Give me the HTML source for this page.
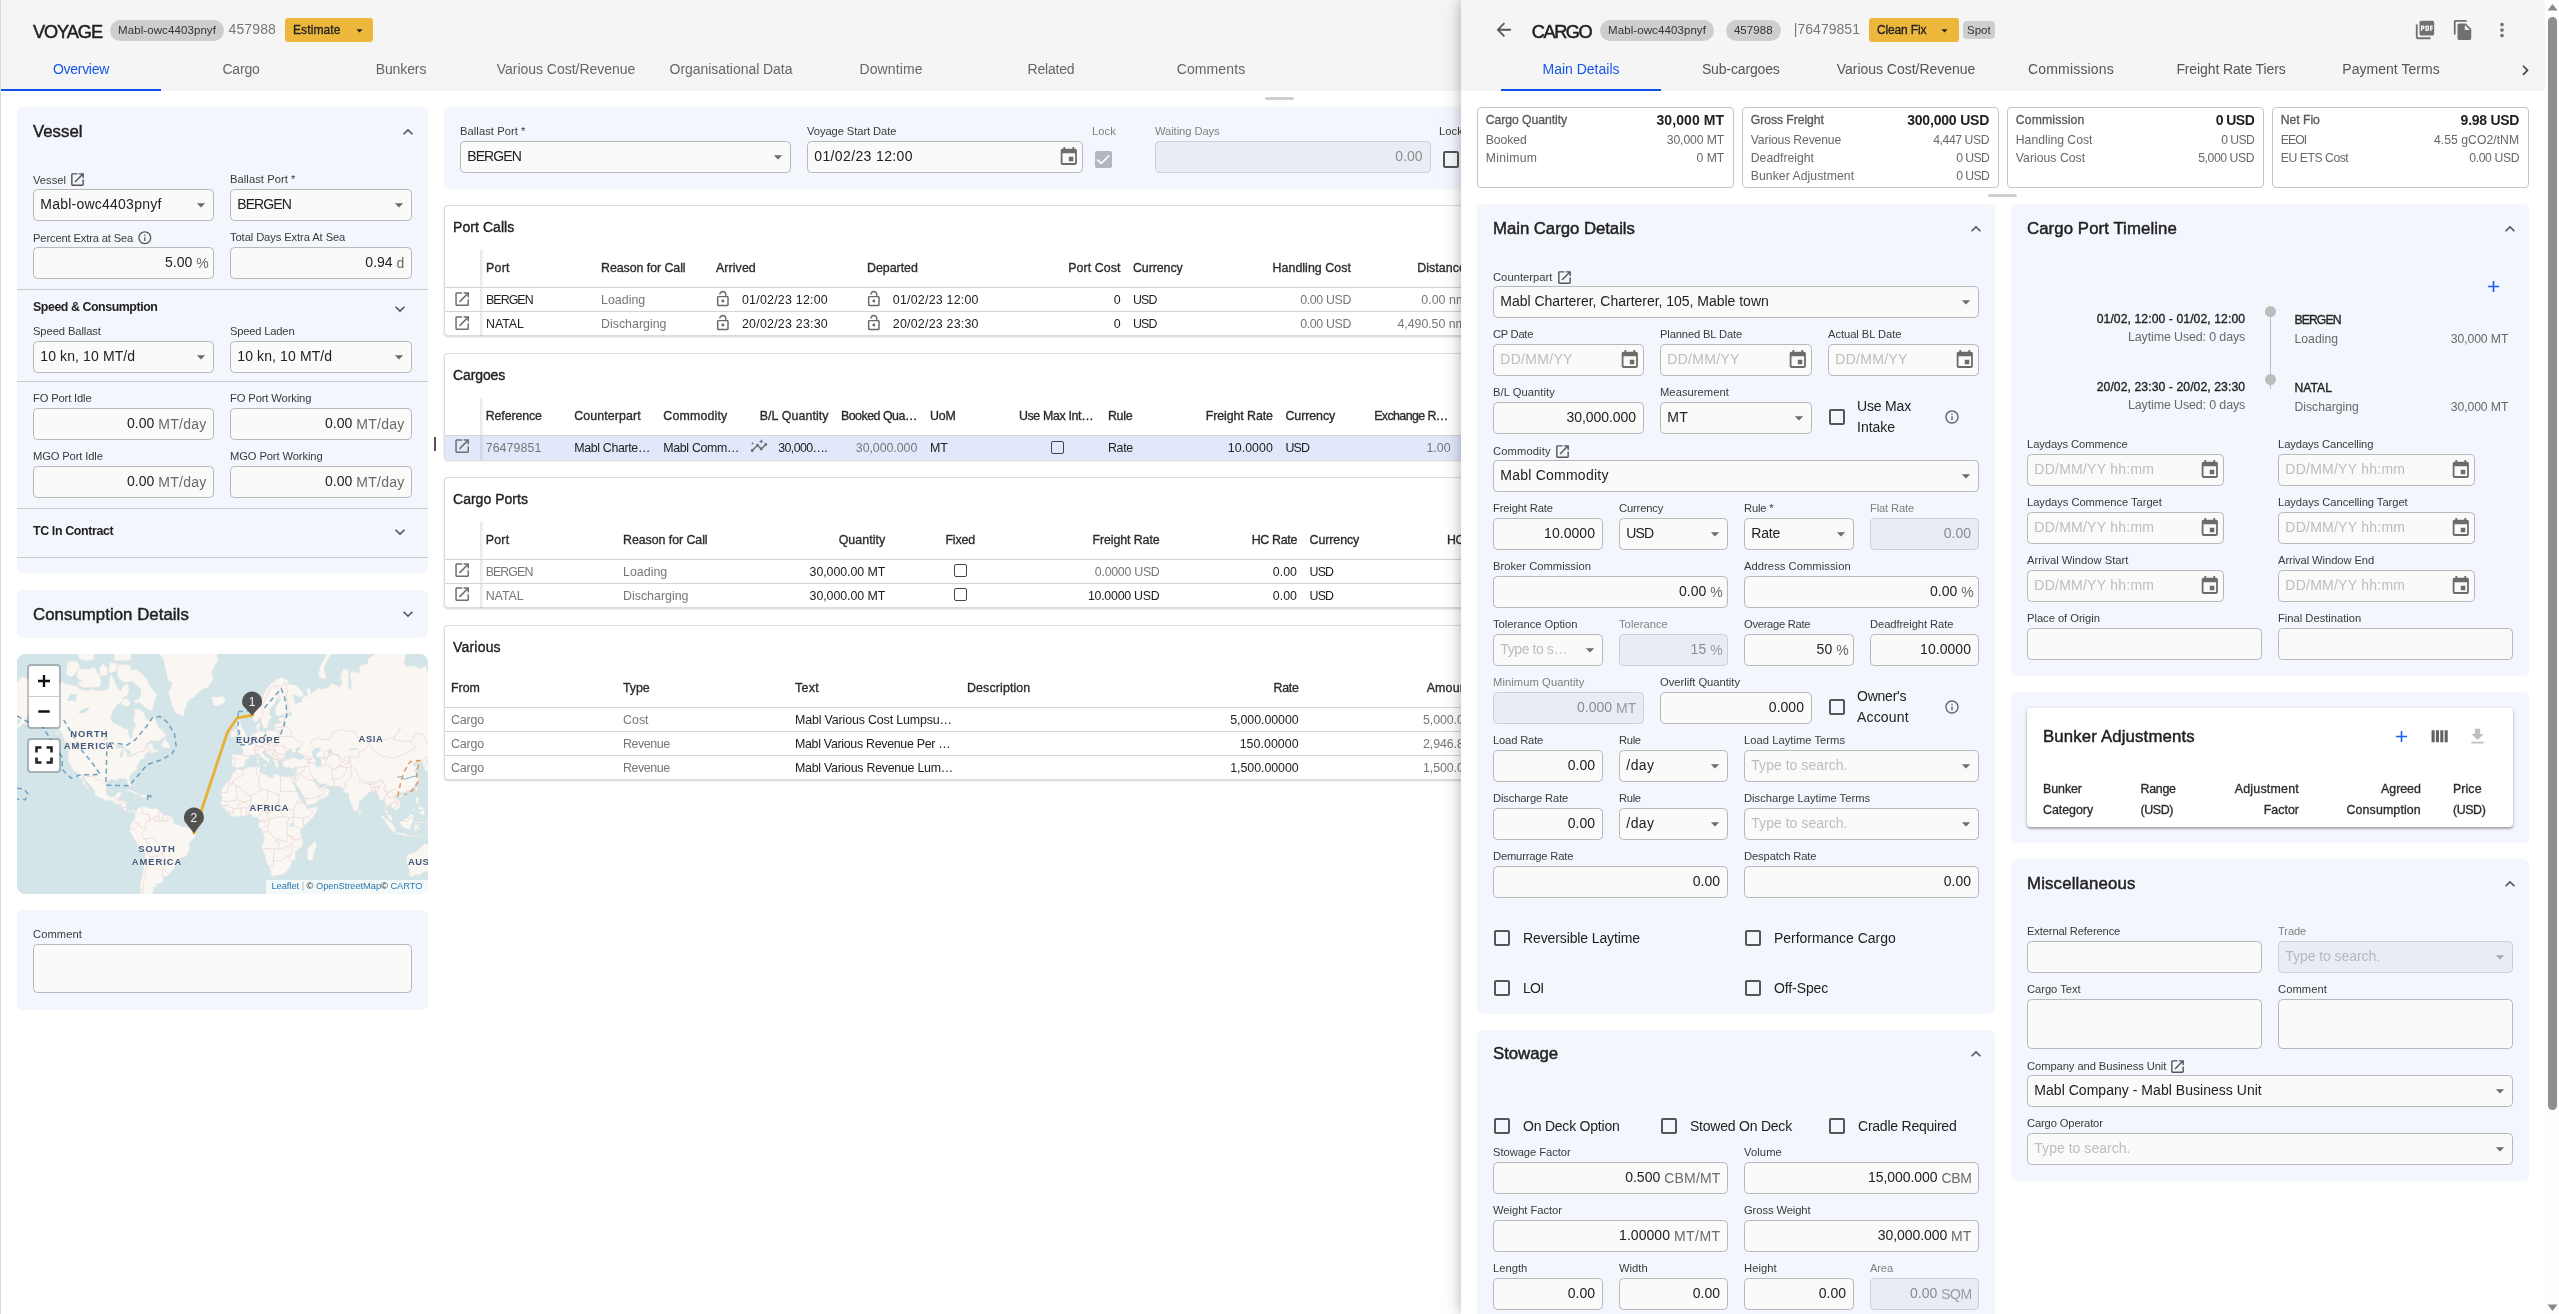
<!DOCTYPE html>
<html><head><meta charset="utf-8"><title>Voyage</title><style>html,body{margin:0;padding:0}
body{width:2559px;height:1314px;position:relative;overflow:hidden;background:#fff;font-family:"Liberation Sans",sans-serif;}
#app{position:absolute;left:0;top:0;width:2559px;height:1314px;overflow:hidden;will-change:transform;}
.t{position:absolute;white-space:pre;}
.r{position:absolute;box-sizing:border-box;}
.i{position:absolute;display:block;}
</style></head><body>
<div id="app">
<div class="r" style="left:0.00px;top:0.00px;width:2559.00px;height:91.00px;background:#f5f5f5;"></div>
<span class="t" style="left:33.00px;top:19.69px;font-size:18.2px;line-height:24px;color:#212121;letter-spacing:-1.087px;-webkit-text-stroke:0.47px #212121;">VOYAGE</span>
<div class="r" style="left:110.00px;top:20.00px;width:114.00px;height:21.00px;background:#cecece;border-radius:10.5px;"></div>
<span class="t" style="left:118.00px;top:22.52px;font-size:11.5px;line-height:15px;color:#333;letter-spacing:0.092px;">Mabl-owc4403pnyf</span>
<span class="t" style="left:228.50px;top:20.15px;font-size:14px;line-height:18px;color:#777777;letter-spacing:0.130px;">457988</span>
<div class="r" style="left:285.00px;top:18.00px;width:88.00px;height:24.00px;background:#edb73c;border-radius:3px;"></div>
<span class="t" style="left:293.00px;top:22.04px;font-size:12px;line-height:16px;color:#212121;letter-spacing:0.102px;-webkit-text-stroke:0.31px #212121;">Estimate</span>
<svg class="i" style="left:351.50px;top:22.80px" width="15" height="15" viewBox="0 0 24 24"><path fill="#212121" d="M7 10l5 5 5-5z"/></svg>
<span class="t" style="left:53.00px;top:60.15px;font-size:14px;line-height:18px;color:#1558e8;letter-spacing:-0.293px;">Overview</span>
<span class="t" style="left:222.41px;top:60.15px;font-size:14px;line-height:18px;color:#666;letter-spacing:-0.189px;">Cargo</span>
<span class="t" style="left:375.74px;top:60.15px;font-size:14px;line-height:18px;color:#666;letter-spacing:-0.119px;">Bunkers</span>
<span class="t" style="left:496.80px;top:60.15px;font-size:14px;line-height:18px;color:#666;letter-spacing:-0.032px;">Various Cost/Revenue</span>
<span class="t" style="left:669.55px;top:60.15px;font-size:14px;line-height:18px;color:#666;letter-spacing:-0.044px;">Organisational Data</span>
<span class="t" style="left:859.44px;top:60.15px;font-size:14px;line-height:18px;color:#666;letter-spacing:0.109px;">Downtime</span>
<span class="t" style="left:1027.51px;top:60.15px;font-size:14px;line-height:18px;color:#666;letter-spacing:-0.183px;">Related</span>
<span class="t" style="left:1176.69px;top:60.15px;font-size:14px;line-height:18px;color:#666;letter-spacing:0.116px;">Comments</span>
<div class="r" style="left:1.00px;top:89.00px;width:160.00px;height:2.00px;background:#0d51e7;"></div>
<div class="r" style="left:0.00px;top:91.00px;width:2559.00px;height:1223.00px;background:#fff;"></div>
<div class="r" style="left:0.00px;top:0.00px;width:1.00px;height:1314.00px;background:#d9d9d9;"></div>
<div class="r" style="left:17.00px;top:107.00px;width:411.00px;height:466.00px;background:#f3f6fd;border-radius:6px;"></div>
<span class="t" style="left:33.00px;top:120.98px;font-size:16.8px;line-height:22px;color:#212121;letter-spacing:0.000px;-webkit-text-stroke:0.44px #212121;">Vessel</span>
<svg class="i" style="left:398.00px;top:121.50px" width="20" height="20" viewBox="0 0 24 24"><path fill="#555" d="M12 8l-6 6 1.41 1.41L12 10.83l4.59 4.58L18 14z"/></svg>
<span class="t" style="left:33.00px;top:172.82px;font-size:11.2px;line-height:15px;color:#3a3a3a;letter-spacing:0.009px;">Vessel</span>
<svg class="i" style="left:69.00px;top:171.00px" width="17" height="17" viewBox="0 0 24 24"><path fill="#555" d="M19 19H5V5h7V3H5c-1.11 0-2 .9-2 2v14c0 1.1.89 2 2 2h14c1.1 0 2-.9 2-2v-7h-2v7zM14 3v2h3.59l-9.83 9.83 1.41 1.41L19 6.41V10h2V3h-7z"/></svg>
<span class="t" style="left:230.00px;top:172.02px;font-size:11.2px;line-height:15px;color:#3a3a3a;letter-spacing:0.058px;">Ballast Port *</span>
<div class="r" style="left:33.00px;top:189.00px;width:181.00px;height:32.00px;background:#fafafa;border:1px solid #b8b8b8;border-radius:4.5px;"></div>
<span class="t" style="left:40.30px;top:194.95px;font-size:14px;line-height:18px;color:#212121;letter-spacing:0.233px;">Mabl-owc4403pnyf</span>
<svg class="i" style="left:191.00px;top:194.80px" width="20" height="20" viewBox="0 0 24 24"><path fill="#6b6b6b" d="M7 10l5 5 5-5z"/></svg>
<div class="r" style="left:230.00px;top:189.00px;width:182.00px;height:32.00px;background:#fafafa;border:1px solid #b8b8b8;border-radius:4.5px;"></div>
<span class="t" style="left:237.30px;top:194.95px;font-size:14px;line-height:18px;color:#212121;letter-spacing:-0.924px;">BERGEN</span>
<svg class="i" style="left:389.00px;top:194.80px" width="20" height="20" viewBox="0 0 24 24"><path fill="#6b6b6b" d="M7 10l5 5 5-5z"/></svg>
<span class="t" style="left:33.00px;top:230.82px;font-size:11.2px;line-height:15px;color:#3a3a3a;letter-spacing:-0.152px;">Percent Extra at Sea</span>
<svg class="i" style="left:137.00px;top:229.80px" width="15.6" height="15.6" viewBox="0 0 24 24"><path fill="#555" d="M11 17h2v-6h-2v6zm1-15C6.48 2 2 6.48 2 12s4.48 10 10 10 10-4.48 10-10S17.52 2 12 2zm0 18c-4.41 0-8-3.59-8-8s3.59-8 8-8 8 3.59 8 8-3.59 8-8 8zM11 9h2V7h-2v2z"/></svg>
<span class="t" style="left:230.00px;top:230.02px;font-size:11.2px;line-height:15px;color:#3a3a3a;letter-spacing:-0.099px;">Total Days Extra At Sea</span>
<div class="r" style="left:33.00px;top:247.00px;width:181.00px;height:32.00px;background:#fafafa;border:1px solid #b8b8b8;border-radius:4.5px;"></div>
<span class="t" style="left:196.25px;top:254.05px;font-size:14px;line-height:18px;color:#6a6a6a;letter-spacing:-1.500px;">%</span>
<span class="t" style="left:164.98px;top:252.95px;font-size:14px;line-height:18px;color:#212121;letter-spacing:0.012px;">5.00</span>
<div class="r" style="left:230.00px;top:247.00px;width:182.00px;height:32.00px;background:#fafafa;border:1px solid #b8b8b8;border-radius:4.5px;"></div>
<span class="t" style="left:396.60px;top:254.05px;font-size:14px;line-height:18px;color:#6a6a6a;letter-spacing:0.109px;">d</span>
<span class="t" style="left:365.33px;top:252.95px;font-size:14px;line-height:18px;color:#212121;letter-spacing:0.012px;">0.94</span>
<div class="r" style="left:17.00px;top:289.00px;width:411.00px;height:1.00px;background:#c9c9c9;"></div>
<span class="t" style="left:33.00px;top:298.90px;font-size:12.4px;line-height:16px;color:#212121;letter-spacing:-0.445px;font-weight:700;">Speed &amp; Consumption</span>
<svg class="i" style="left:390.00px;top:299.00px" width="20" height="20" viewBox="0 0 24 24"><path fill="#555" d="M16.59 8.59L12 13.17 7.41 8.59 6 10l6 6 6-6z"/></svg>
<span class="t" style="left:33.00px;top:324.02px;font-size:11.2px;line-height:15px;color:#3a3a3a;letter-spacing:-0.088px;">Speed Ballast</span>
<span class="t" style="left:230.00px;top:324.02px;font-size:11.2px;line-height:15px;color:#3a3a3a;letter-spacing:-0.197px;">Speed Laden</span>
<div class="r" style="left:33.00px;top:341.00px;width:181.00px;height:32.00px;background:#fafafa;border:1px solid #b8b8b8;border-radius:4.5px;"></div>
<span class="t" style="left:40.30px;top:346.95px;font-size:14px;line-height:18px;color:#212121;letter-spacing:0.111px;">10 kn, 10 MT/d</span>
<svg class="i" style="left:191.00px;top:346.80px" width="20" height="20" viewBox="0 0 24 24"><path fill="#6b6b6b" d="M7 10l5 5 5-5z"/></svg>
<div class="r" style="left:230.00px;top:341.00px;width:182.00px;height:32.00px;background:#fafafa;border:1px solid #b8b8b8;border-radius:4.5px;"></div>
<span class="t" style="left:237.30px;top:346.95px;font-size:14px;line-height:18px;color:#212121;letter-spacing:0.111px;">10 kn, 10 MT/d</span>
<svg class="i" style="left:389.00px;top:346.80px" width="20" height="20" viewBox="0 0 24 24"><path fill="#6b6b6b" d="M7 10l5 5 5-5z"/></svg>
<div class="r" style="left:17.00px;top:381.00px;width:411.00px;height:1.00px;background:#c9c9c9;"></div>
<span class="t" style="left:33.00px;top:391.02px;font-size:11.2px;line-height:15px;color:#3a3a3a;letter-spacing:-0.148px;">FO Port Idle</span>
<span class="t" style="left:230.00px;top:391.02px;font-size:11.2px;line-height:15px;color:#3a3a3a;letter-spacing:-0.120px;">FO Port Working</span>
<div class="r" style="left:33.00px;top:408.00px;width:181.00px;height:32.00px;background:#fafafa;border:1px solid #b8b8b8;border-radius:4.5px;"></div>
<span class="t" style="left:158.31px;top:415.05px;font-size:14px;line-height:18px;color:#6a6a6a;letter-spacing:0.252px;">MT/day</span>
<span class="t" style="left:127.04px;top:413.95px;font-size:14px;line-height:18px;color:#212121;letter-spacing:0.012px;">0.00</span>
<div class="r" style="left:230.00px;top:408.00px;width:182.00px;height:32.00px;background:#fafafa;border:1px solid #b8b8b8;border-radius:4.5px;"></div>
<span class="t" style="left:356.31px;top:415.05px;font-size:14px;line-height:18px;color:#6a6a6a;letter-spacing:0.252px;">MT/day</span>
<span class="t" style="left:325.04px;top:413.95px;font-size:14px;line-height:18px;color:#212121;letter-spacing:0.012px;">0.00</span>
<span class="t" style="left:33.00px;top:449.02px;font-size:11.2px;line-height:15px;color:#3a3a3a;letter-spacing:-0.136px;">MGO Port Idle</span>
<span class="t" style="left:230.00px;top:449.02px;font-size:11.2px;line-height:15px;color:#3a3a3a;letter-spacing:-0.111px;">MGO Port Working</span>
<div class="r" style="left:33.00px;top:466.00px;width:181.00px;height:32.00px;background:#fafafa;border:1px solid #b8b8b8;border-radius:4.5px;"></div>
<span class="t" style="left:158.31px;top:473.05px;font-size:14px;line-height:18px;color:#6a6a6a;letter-spacing:0.252px;">MT/day</span>
<span class="t" style="left:127.04px;top:471.95px;font-size:14px;line-height:18px;color:#212121;letter-spacing:0.012px;">0.00</span>
<div class="r" style="left:230.00px;top:466.00px;width:182.00px;height:32.00px;background:#fafafa;border:1px solid #b8b8b8;border-radius:4.5px;"></div>
<span class="t" style="left:356.31px;top:473.05px;font-size:14px;line-height:18px;color:#6a6a6a;letter-spacing:0.252px;">MT/day</span>
<span class="t" style="left:325.04px;top:471.95px;font-size:14px;line-height:18px;color:#212121;letter-spacing:0.012px;">0.00</span>
<div class="r" style="left:17.00px;top:508.00px;width:411.00px;height:1.00px;background:#c9c9c9;"></div>
<span class="t" style="left:33.00px;top:522.70px;font-size:12.4px;line-height:16px;color:#212121;letter-spacing:-0.367px;font-weight:700;">TC In Contract</span>
<svg class="i" style="left:390.00px;top:522.00px" width="20" height="20" viewBox="0 0 24 24"><path fill="#555" d="M16.59 8.59L12 13.17 7.41 8.59 6 10l6 6 6-6z"/></svg>
<div class="r" style="left:17.00px;top:557.00px;width:411.00px;height:1.00px;background:#c9c9c9;"></div>
<div class="r" style="left:17.00px;top:590.00px;width:411.00px;height:47.50px;background:#f3f6fd;border-radius:6px;"></div>
<span class="t" style="left:33.00px;top:603.98px;font-size:16.8px;line-height:22px;color:#212121;letter-spacing:0.052px;-webkit-text-stroke:0.44px #212121;">Consumption Details</span>
<svg class="i" style="left:398.00px;top:604.00px" width="20" height="20" viewBox="0 0 24 24"><path fill="#555" d="M16.59 8.59L12 13.17 7.41 8.59 6 10l6 6 6-6z"/></svg>
<div class="r" style="left:17.00px;top:910.00px;width:411.00px;height:99.50px;background:#f3f6fd;border-radius:6px;"></div>
<span class="t" style="left:33.00px;top:927.02px;font-size:11.2px;line-height:15px;color:#3a3a3a;letter-spacing:0.080px;">Comment</span>
<div class="r" style="left:33.00px;top:944.00px;width:379.00px;height:49.00px;background:#fafafa;border:1px solid #b8b8b8;border-radius:4.5px;"></div>
<svg class="i" style="left:17px;top:654px;border-radius:8px;background:#d4e5ea" width="411" height="240" viewBox="0 0 411 240"><path fill="#faf7f2" stroke="#e9e4de" stroke-width="0.4" stroke-linejoin="round" d="M-10.9 45.0 L-8.1 34.9 L-3.8 32.1 L5.4 22.5 L14.7 26.0 L27.5 29.7 L36.0 31.4 L46.0 28.1 L50.2 30.5 L60.2 32.5 L64.4 36.0 L71.6 36.8 L74.4 34.9 L81.5 36.8 L88.6 36.0 L91.5 34.9 L93.6 19.8 L97.2 26.0 L100.0 32.9 L103.6 37.5 L107.1 30.9 L111.4 30.1 L112.1 37.9 L110.0 42.3 L105.7 43.3 L104.3 48.4 L100.0 50.7 L95.7 56.9 L93.3 63.6 L95.7 68.2 L100.0 70.4 L107.1 74.4 L111.0 75.4 L111.4 80.3 L113.5 84.2 L115.6 83.1 L115.6 76.7 L118.8 71.7 L116.4 65.5 L117.8 60.8 L117.1 55.1 L122.8 55.4 L127.0 58.7 L129.2 65.0 L132.7 66.9 L134.8 62.8 L136.3 61.0 L139.1 67.7 L141.2 72.9 L145.5 76.4 L148.4 80.3 L148.4 82.6 L144.8 84.2 L142.7 86.7 L138.4 86.5 L133.4 86.7 L129.9 90.0 L127.0 93.8 L129.2 92.5 L134.1 89.1 L136.3 89.3 L135.8 92.5 L136.3 95.2 L139.8 95.9 L142.7 95.2 L141.2 97.1 L137.0 98.7 L134.1 100.5 L134.1 98.1 L136.3 96.7 L132.7 97.7 L129.9 99.3 L127.7 101.0 L127.3 103.0 L128.4 104.1 L126.3 104.7 L122.8 106.0 L122.5 108.3 L120.9 110.1 L119.6 112.8 L120.2 115.3 L118.8 116.8 L116.4 118.4 L114.2 120.6 L112.4 123.1 L112.4 125.1 L113.8 128.8 L113.9 131.8 L112.5 132.4 L111.4 130.4 L110.2 128.0 L110.2 126.0 L108.5 124.7 L106.4 125.2 L104.3 124.1 L101.4 124.2 L100.7 126.0 L98.6 125.9 L95.0 125.2 L92.9 126.2 L90.0 128.0 L89.3 131.2 L88.9 136.6 L89.8 139.7 L91.5 142.0 L93.3 143.0 L96.4 142.7 L98.6 142.3 L99.3 139.2 L102.1 138.2 L104.3 138.3 L103.6 141.2 L102.8 143.5 L101.7 146.4 L105.7 146.6 L108.5 146.7 L109.7 147.9 L109.0 151.6 L109.0 153.8 L110.7 156.2 L112.8 156.8 L114.8 155.8 L117.1 156.2 L118.1 157.5 L117.4 159.2 L116.4 157.5 L114.5 156.8 L113.7 157.8 L113.8 159.1 L111.9 158.2 L110.0 157.7 L109.0 157.1 L106.3 155.2 L106.0 153.8 L103.6 150.9 L101.4 150.3 L97.9 149.4 L95.0 147.0 L93.2 146.1 L90.8 146.9 L87.9 146.0 L84.4 144.2 L80.8 142.9 L78.2 141.1 L77.8 138.6 L76.7 135.6 L73.7 132.1 L72.3 129.9 L70.1 128.0 L67.9 125.6 L67.0 122.8 L64.7 121.8 L65.0 124.4 L67.6 128.0 L69.7 132.3 L72.1 135.6 L71.3 135.9 L68.4 133.1 L68.3 130.9 L65.3 129.3 L65.6 127.0 L63.3 124.2 L61.3 120.4 L59.5 118.0 L56.6 117.2 L54.8 113.7 L53.8 111.4 L51.9 108.3 L51.2 106.6 L51.5 103.6 L51.1 101.2 L51.8 95.2 L50.6 90.8 L53.4 91.1 L53.4 89.3 L50.9 87.1 L46.7 84.9 L46.0 81.5 L42.4 76.7 L41.0 72.9 L37.4 67.7 L33.9 67.2 L32.0 65.3 L28.9 62.8 L23.2 62.2 L19.6 59.3 L16.8 62.2 L12.5 64.2 L14.7 58.7 L11.8 59.3 L9.7 64.2 L9.0 67.7 L5.4 70.4 L2.6 72.9 L-1.0 74.9 L-3.8 75.9 L-6.4 76.4 L-3.1 73.4 L-0.3 71.7 L3.3 68.2 L4.3 65.5 L1.9 66.1 L-2.4 65.0 L-2.4 62.2 L-6.7 59.9 L-8.1 56.9 L-6.0 53.2 L-1.0 51.7 L-1.0 48.4 L-3.8 48.1 L-8.8 47.7 L-10.9 45.0Z M135.6 56.9 L131.3 55.4 L127.0 52.6 L122.8 48.7 L117.4 49.1 L117.1 46.7 L122.0 45.0 L123.5 40.5 L124.2 34.9 L118.5 30.1 L115.6 27.2 L107.1 28.5 L102.8 25.6 L100.7 22.9 L100.0 17.0 L101.4 10.6 L107.1 10.6 L112.8 11.1 L114.2 16.1 L119.9 15.6 L125.6 20.7 L129.9 25.1 L132.0 30.9 L137.0 37.5 L140.2 40.5 L137.7 46.7 L136.3 52.3 L135.6 56.9Z M78.7 33.7 L73.0 33.3 L67.3 33.7 L63.0 32.1 L61.2 28.1 L65.9 26.8 L60.9 25.1 L59.5 21.2 L61.6 15.6 L65.9 14.6 L71.6 15.6 L77.2 12.6 L79.4 17.0 L82.9 22.5 L84.4 28.9 L82.9 32.5 L78.7 33.7Z M49.5 19.8 L53.1 22.9 L57.3 21.2 L61.6 15.6 L63.0 13.1 L60.9 8.0 L55.9 7.0 L50.9 8.0 L49.5 15.6 L49.5 19.8Z M105.0 50.7 L109.2 52.3 L113.5 50.7 L111.7 45.4 L107.1 44.0 L104.3 47.4 L105.0 50.7Z M61.6 4.3 L68.7 7.0 L77.2 5.4 L77.2 -1.4 L71.6 -3.8 L61.6 -2.6 L61.6 4.3Z M91.5 19.3 L99.3 17.0 L100.0 9.6 L92.9 8.6 L91.5 19.3Z M82.9 21.6 L90.0 21.2 L90.8 14.6 L85.8 9.6 L82.2 14.6 L82.9 21.6Z M97.2 6.4 L114.2 6.4 L114.2 -0.2 L101.4 -5.0 L97.2 -1.4 L97.2 6.4Z M143.7 92.1 L148.4 93.8 L152.6 94.4 L153.0 92.3 L151.9 90.4 L151.5 88.5 L148.6 87.1 L149.1 83.5 L146.9 84.9 L145.8 88.0 L144.1 90.4 L143.7 92.1Z M165.4 62.5 L162.6 60.2 L159.0 59.3 L156.9 55.4 L154.8 50.0 L152.6 43.3 L151.5 37.9 L154.0 33.3 L155.5 28.9 L150.5 26.0 L149.8 20.3 L148.4 14.6 L146.9 6.4 L142.7 -0.2 L135.6 -1.4 L129.9 -5.0 L125.6 -14.1 L134.1 -29.0 L142.7 -47.3 L164.0 -58.2 L185.3 -64.2 L199.6 -47.3 L202.4 -29.0 L201.7 -14.1 L199.6 -1.4 L201.0 7.0 L197.4 12.1 L194.6 18.4 L196.7 23.8 L194.6 28.1 L190.3 34.1 L185.3 35.3 L181.1 39.0 L177.5 43.3 L174.0 44.7 L171.1 46.7 L169.7 51.7 L167.6 56.3 L166.8 61.3 L165.4 62.5Z M118.1 157.5 L119.9 155.9 L120.9 154.0 L122.5 153.5 L125.3 152.3 L126.3 151.7 L126.7 153.5 L128.4 152.6 L130.6 154.0 L134.1 154.3 L136.3 154.8 L139.1 154.2 L141.2 155.5 L142.7 157.4 L144.8 159.5 L146.9 161.0 L151.2 161.2 L154.0 162.7 L155.5 163.8 L156.9 166.9 L156.2 169.5 L159.0 170.6 L161.2 170.5 L164.7 172.8 L166.8 172.9 L169.3 173.6 L171.8 173.8 L174.0 175.2 L176.1 176.6 L177.8 177.0 L178.5 179.8 L178.2 182.4 L176.4 184.5 L175.0 186.0 L173.1 188.1 L172.5 190.3 L172.5 193.3 L172.1 195.5 L171.4 197.9 L170.0 200.4 L169.7 201.9 L167.6 203.1 L164.7 203.4 L162.3 204.7 L159.7 206.7 L158.7 208.6 L158.7 211.5 L156.9 213.9 L155.2 216.4 L153.3 219.3 L151.9 221.0 L149.9 222.5 L147.9 222.4 L145.8 221.7 L144.9 221.0 L146.6 223.7 L146.6 225.3 L145.9 228.4 L143.4 229.5 L139.8 229.8 L139.4 233.2 L135.6 233.5 L137.3 236.4 L135.3 238.5 L135.1 241.3 L132.0 243.8 L134.1 246.5 L129.9 253.0 L130.7 257.3 L134.1 263.1 L129.9 264.8 L125.6 261.1 L122.0 256.4 L120.6 249.7 L122.0 242.3 L124.2 237.4 L123.0 234.5 L123.5 227.1 L124.9 222.7 L126.2 219.3 L126.3 214.3 L127.0 210.2 L127.9 204.7 L128.2 199.3 L128.0 196.1 L126.3 194.5 L123.5 193.0 L119.5 189.3 L118.2 186.7 L116.6 183.8 L114.9 180.2 L112.8 178.0 L112.4 175.9 L114.2 174.2 L113.1 172.8 L113.1 170.9 L114.1 169.2 L114.5 168.1 L115.9 167.2 L117.8 164.1 L117.8 161.7 L117.6 159.5 L118.1 157.5Z M219.6 114.9 L223.7 115.8 L226.6 116.0 L229.4 113.7 L233.7 113.0 L239.4 112.8 L242.2 112.3 L243.6 113.1 L242.6 115.4 L242.5 117.7 L243.9 119.2 L246.5 119.9 L249.6 120.9 L251.5 122.8 L255.0 124.2 L256.4 123.1 L256.7 120.6 L259.3 119.9 L262.1 121.4 L265.0 122.3 L269.2 123.3 L272.1 122.3 L273.9 122.8 L274.4 124.9 L275.6 128.0 L277.1 131.2 L278.5 134.3 L279.2 136.6 L280.9 138.9 L281.0 142.0 L282.8 143.5 L284.2 147.2 L286.3 148.4 L288.4 150.9 L289.6 151.9 L289.4 153.0 L291.3 154.5 L294.8 153.5 L297.7 153.3 L300.8 152.5 L300.5 154.6 L299.1 158.1 L297.0 161.7 L294.8 164.5 L292.0 166.9 L289.2 169.5 L287.0 172.1 L285.2 173.8 L283.8 176.6 L283.2 178.8 L284.2 180.9 L284.5 183.8 L285.6 185.2 L285.7 189.6 L285.6 191.8 L282.8 194.3 L280.6 195.4 L278.1 198.5 L278.5 201.6 L278.5 204.7 L274.9 207.0 L274.6 209.4 L273.9 212.3 L272.1 214.3 L270.0 217.1 L267.1 219.8 L264.7 221.0 L260.7 221.0 L256.4 222.4 L254.2 221.1 L253.9 218.4 L252.9 214.3 L251.5 212.0 L249.6 209.1 L248.6 204.7 L248.5 202.4 L246.5 198.5 L244.8 194.8 L245.1 191.1 L247.3 187.4 L247.2 183.8 L246.2 179.5 L245.5 177.3 L243.6 174.8 L241.5 172.3 L240.8 170.6 L241.7 168.1 L241.8 165.2 L240.8 163.4 L238.0 163.4 L236.5 163.4 L234.4 160.5 L231.6 160.5 L229.4 161.1 L225.9 162.4 L223.7 162.2 L220.9 162.2 L217.3 163.2 L215.2 162.4 L211.6 159.8 L209.5 157.4 L208.8 155.5 L206.7 153.8 L204.2 151.6 L203.8 148.4 L204.8 145.7 L204.8 142.0 L203.8 138.9 L205.2 135.1 L207.4 131.2 L209.5 128.3 L212.4 126.7 L214.1 125.1 L214.2 122.3 L215.9 119.2 L218.0 118.2 L219.6 114.9Z M298.1 186.7 L299.5 191.8 L298.4 194.8 L297.0 199.3 L295.6 205.9 L292.3 207.0 L290.2 203.9 L289.9 200.8 L291.0 198.5 L290.6 194.0 L292.0 192.6 L294.8 191.1 L296.3 188.9 L298.1 186.7Z M215.2 112.8 L214.6 109.5 L215.5 104.5 L214.9 101.2 L216.6 100.3 L220.9 100.7 L225.2 100.9 L226.2 98.7 L226.3 95.7 L224.4 93.0 L221.3 90.6 L223.7 89.8 L225.9 90.0 L225.4 87.8 L228.3 88.2 L230.3 85.4 L233.0 84.0 L234.7 80.3 L238.0 79.1 L240.4 78.1 L239.5 74.2 L239.7 70.4 L243.1 68.5 L242.6 72.9 L241.9 75.4 L243.6 77.9 L245.8 76.9 L247.9 77.9 L251.5 76.7 L254.3 76.2 L256.4 76.7 L257.9 74.2 L257.9 70.4 L260.0 68.5 L262.1 69.8 L262.6 66.9 L261.4 64.4 L265.0 63.3 L267.8 63.0 L270.7 62.2 L268.5 60.8 L265.0 61.0 L260.7 62.5 L258.3 59.3 L258.6 53.2 L262.1 48.4 L263.6 45.4 L259.3 44.4 L257.9 49.4 L254.3 53.2 L252.9 56.3 L252.5 60.5 L255.0 62.8 L252.2 65.8 L251.5 69.0 L250.8 72.4 L248.3 74.2 L246.2 74.4 L245.8 71.7 L244.4 68.2 L243.9 65.3 L242.9 64.2 L241.5 65.5 L239.4 67.4 L237.2 67.4 L235.8 65.5 L235.1 59.3 L235.5 55.7 L238.0 53.9 L240.1 51.7 L243.6 48.4 L245.8 44.4 L246.5 40.8 L248.6 36.0 L250.8 33.7 L252.9 30.5 L256.4 28.1 L260.0 25.6 L264.7 23.4 L267.8 24.7 L272.1 27.2 L270.7 29.7 L274.9 30.5 L279.2 31.4 L283.5 36.0 L286.3 38.6 L286.3 41.5 L283.5 43.0 L279.2 41.9 L274.9 40.8 L277.1 45.0 L277.5 48.4 L279.9 50.0 L282.0 48.1 L284.9 48.1 L284.9 44.0 L287.7 41.9 L290.6 42.6 L289.9 34.1 L293.4 35.3 L294.1 40.5 L296.3 37.5 L302.0 34.1 L304.8 35.3 L309.1 34.1 L311.9 33.3 L314.0 28.9 L319.0 30.9 L320.4 31.4 L323.3 32.9 L325.4 28.1 L323.0 23.8 L326.1 14.6 L331.1 15.6 L331.5 23.8 L331.1 32.1 L333.2 36.0 L334.7 32.1 L333.0 21.6 L334.7 17.0 L338.9 18.4 L342.5 18.4 L342.5 12.1 L350.3 9.6 L351.7 4.3 L358.8 -0.2 L367.4 -3.2 L375.9 -12.0 L380.2 -5.6 L388.7 -1.4 L387.3 9.6 L389.4 12.1 L395.8 12.1 L402.9 14.6 L408.6 12.1 L412.2 21.6 L414.3 23.8 L420.0 21.2 L427.1 15.6 L434.2 17.0 L434.2 116.3 L414.3 119.7 L412.5 104.5 L409.3 107.7 L410.8 109.9 L412.0 112.8 L411.9 115.8 L409.6 116.8 L407.9 117.3 L407.6 114.9 L407.6 112.8 L405.8 111.4 L406.2 108.3 L404.8 107.5 L402.2 108.6 L400.4 109.5 L401.5 106.4 L400.1 105.7 L398.0 108.3 L395.5 109.5 L396.5 111.4 L398.4 112.4 L399.8 111.4 L402.2 112.4 L400.1 113.9 L399.1 114.6 L397.7 116.3 L399.1 118.4 L400.1 120.6 L401.4 123.1 L401.2 125.6 L400.8 127.5 L398.7 130.4 L397.2 132.3 L395.8 133.5 L393.7 135.6 L390.6 136.8 L388.0 137.7 L385.2 138.5 L384.4 140.0 L384.0 138.2 L382.0 138.0 L379.9 139.7 L378.5 142.0 L380.2 145.0 L382.3 146.4 L383.4 150.1 L383.3 152.7 L380.9 154.5 L379.5 155.9 L377.3 157.1 L377.3 154.9 L375.2 154.3 L373.8 152.3 L371.5 150.3 L370.2 151.1 L369.9 153.8 L369.1 155.9 L370.6 158.1 L370.9 159.5 L373.1 160.7 L374.9 163.1 L375.2 165.5 L376.2 167.5 L375.1 167.4 L372.1 165.5 L370.9 163.1 L370.6 161.0 L368.8 158.8 L367.8 157.4 L368.2 154.5 L368.2 151.6 L367.0 147.9 L367.0 145.7 L365.2 145.7 L363.5 146.7 L362.1 146.4 L362.4 143.5 L361.0 140.8 L359.1 138.9 L358.1 136.6 L356.3 137.4 L354.6 137.7 L351.7 138.2 L351.4 140.0 L349.2 141.2 L346.8 143.8 L344.9 145.7 L342.2 147.0 L341.9 149.4 L342.2 150.9 L341.5 153.0 L341.5 154.8 L340.4 156.4 L339.2 156.8 L338.2 157.9 L336.8 156.6 L336.1 154.5 L334.7 151.6 L334.0 148.7 L332.5 146.4 L331.8 143.8 L331.5 142.0 L331.5 138.9 L330.4 138.9 L328.7 139.2 L326.1 137.0 L327.6 136.0 L325.4 135.3 L323.7 133.1 L322.6 132.1 L319.0 132.3 L315.5 132.6 L311.9 132.1 L309.5 131.7 L308.8 129.6 L305.5 130.2 L303.4 129.6 L301.2 128.3 L299.8 125.6 L298.4 124.4 L297.1 124.7 L296.3 125.6 L297.3 127.7 L298.8 129.6 L299.4 131.2 L300.2 132.8 L300.8 131.0 L301.5 132.8 L301.2 133.7 L303.4 134.0 L305.1 134.0 L306.9 132.3 L308.1 130.9 L308.5 133.5 L309.8 134.6 L311.5 134.9 L313.0 136.6 L311.6 139.7 L310.2 142.0 L308.4 143.5 L306.5 144.2 L304.1 145.4 L302.2 146.1 L299.8 147.9 L297.3 149.4 L294.1 150.3 L292.0 151.1 L289.9 151.3 L289.0 148.2 L288.7 145.7 L287.4 143.5 L285.9 141.1 L283.8 138.2 L282.8 135.1 L280.9 133.1 L279.9 131.2 L277.8 128.0 L277.6 125.6 L276.8 128.0 L275.8 127.5 L274.6 125.6 L274.4 124.7 L273.9 122.6 L275.2 122.8 L276.6 122.6 L277.8 120.1 L278.5 118.0 L279.1 115.4 L279.5 113.5 L277.8 113.3 L276.4 114.0 L274.2 114.4 L271.5 113.1 L269.2 114.0 L267.0 112.8 L265.4 110.5 L266.1 108.3 L265.3 107.1 L267.1 106.6 L269.2 106.4 L269.2 105.3 L272.8 105.1 L275.6 103.6 L277.8 103.6 L279.9 104.9 L282.8 105.5 L284.9 105.5 L287.0 104.5 L287.0 102.6 L284.9 100.7 L282.0 98.7 L280.6 97.3 L282.3 95.2 L283.8 93.2 L281.3 93.6 L278.1 95.2 L279.9 97.1 L278.5 97.7 L275.6 98.7 L274.2 96.9 L275.6 95.7 L273.2 94.6 L272.1 94.4 L270.2 97.3 L268.7 100.1 L267.5 102.4 L268.1 104.5 L269.2 105.3 L267.1 105.5 L265.3 106.0 L262.1 105.8 L261.4 107.3 L260.4 106.6 L260.7 109.2 L262.1 111.0 L260.7 112.3 L260.7 113.7 L259.3 113.5 L258.3 111.7 L257.9 109.2 L255.7 106.4 L255.7 103.6 L253.6 102.2 L250.8 100.7 L249.3 98.7 L248.6 97.3 L247.5 96.3 L245.6 97.1 L245.6 99.3 L247.3 100.7 L248.6 103.0 L250.8 103.8 L252.2 105.5 L254.3 107.0 L252.2 106.4 L251.6 109.2 L250.8 111.0 L250.3 107.3 L247.9 105.8 L245.5 104.1 L242.9 101.8 L242.2 99.7 L240.5 98.9 L238.7 100.3 L236.5 101.4 L234.8 100.9 L232.3 101.2 L232.6 103.8 L230.8 104.9 L229.1 105.8 L227.6 108.3 L228.3 109.7 L227.0 111.7 L224.9 113.3 L221.6 113.3 L220.3 114.4 L219.0 113.5 L217.3 112.4 L215.2 112.8Z M219.9 87.1 L223.0 86.5 L226.6 85.6 L230.0 84.5 L229.1 83.5 L230.4 81.0 L228.4 80.3 L228.0 78.9 L227.3 76.7 L225.9 75.4 L225.2 72.9 L223.7 72.7 L225.2 68.5 L222.3 68.8 L223.4 66.1 L220.9 66.1 L219.2 69.6 L219.9 72.2 L220.2 74.4 L221.2 75.9 L223.4 75.7 L223.7 79.1 L221.6 79.6 L221.9 82.2 L220.6 83.1 L223.3 84.0 L221.6 84.9 L219.9 87.1Z M219.5 82.2 L219.5 79.1 L220.2 76.7 L219.0 74.9 L217.6 74.7 L215.9 76.7 L213.8 77.4 L214.1 79.6 L213.4 82.6 L214.5 83.8 L216.6 83.1 L219.5 82.2Z M196.0 50.4 L198.8 51.7 L201.7 52.0 L205.2 50.0 L208.1 48.1 L208.1 45.0 L207.0 42.6 L204.5 41.9 L202.4 43.0 L198.8 43.3 L196.0 41.9 L193.9 45.0 L196.7 46.7 L194.2 47.4 L196.7 49.1 L196.0 50.4Z M301.2 21.6 L304.1 24.3 L309.8 25.6 L307.6 17.0 L307.6 12.1 L310.5 7.0 L313.3 1.5 L320.4 -3.2 L324.7 -6.2 L321.9 -7.5 L313.3 -2.6 L309.1 1.5 L306.2 7.0 L303.4 12.1 L302.0 17.9 L301.2 21.6Z M243.6 -17.6 L249.3 -6.2 L253.6 -8.8 L259.3 -15.5 L266.4 -27.4 L256.4 -33.2 L246.5 -29.0 L243.6 -17.6Z M400.1 132.4 L401.5 132.8 L400.8 135.1 L399.8 137.4 L398.8 135.9 L399.1 134.0 L400.1 132.4Z M382.6 141.5 L385.2 140.5 L385.9 141.2 L384.4 143.0 L382.6 142.7 L382.6 141.5Z M399.4 142.7 L401.8 142.9 L401.9 145.7 L400.8 147.2 L402.2 149.4 L404.4 150.9 L404.1 151.4 L402.9 149.7 L400.8 149.8 L399.7 149.1 L398.7 147.9 L399.1 146.4 L399.4 142.7Z M401.5 152.6 L403.2 153.0 L405.1 153.3 L406.5 153.5 L406.5 155.2 L405.1 155.2 L403.6 155.9 L402.6 155.9 L401.5 154.5 L401.5 152.6Z M401.5 159.5 L403.6 157.4 L406.5 155.5 L407.9 158.8 L407.2 160.7 L406.5 161.2 L404.4 159.5 L401.5 159.5Z M394.7 157.4 L398.0 153.8 L398.4 154.5 L395.5 157.7 L394.7 157.4Z M383.0 167.4 L385.9 167.1 L386.3 165.8 L388.7 164.9 L391.6 162.4 L394.1 159.7 L395.3 160.4 L397.2 162.1 L395.5 163.5 L395.5 165.2 L395.8 168.1 L395.1 169.5 L393.7 171.6 L393.4 174.2 L393.0 175.2 L390.8 175.2 L388.7 174.2 L386.6 173.8 L384.4 171.6 L383.0 169.1 L383.0 167.4Z M363.5 161.5 L366.7 162.1 L368.8 164.5 L370.9 166.2 L373.1 167.8 L375.2 169.5 L376.3 171.6 L377.0 172.8 L378.8 174.1 L378.5 177.8 L376.6 177.8 L374.5 176.3 L373.1 175.2 L371.4 172.6 L370.6 170.9 L368.8 168.8 L368.1 166.9 L366.0 164.9 L363.5 161.5Z M377.6 179.2 L379.5 178.0 L382.3 179.1 L385.2 178.9 L385.9 178.8 L388.3 179.5 L390.8 180.6 L390.7 181.9 L385.9 181.3 L381.6 180.6 L379.5 180.1 L377.6 179.2Z M398.0 168.4 L400.1 167.8 L402.9 168.2 L405.8 167.4 L405.1 168.9 L402.9 168.9 L400.1 168.8 L399.0 170.8 L400.8 170.8 L403.4 170.8 L402.6 171.6 L400.8 172.2 L401.9 174.2 L402.6 175.9 L401.5 176.3 L400.8 175.2 L399.9 173.5 L399.2 174.5 L399.2 177.3 L398.0 177.3 L397.7 174.5 L397.0 173.3 L398.0 170.9 L398.4 169.2 L398.0 168.4Z M391.6 181.2 L394.4 181.3 L397.2 181.5 L400.1 181.5 L402.9 181.3 L402.9 182.1 L398.7 182.4 L394.4 182.4 L391.6 181.9 L391.6 181.2Z M403.6 184.2 L405.8 182.4 L408.6 181.5 L408.6 182.1 L406.5 183.2 L404.4 184.2 L403.6 184.2Z M409.3 170.6 L410.0 167.4 L410.9 167.4 L410.5 170.6 L409.3 170.6Z M410.0 173.8 L414.0 173.8 L414.0 174.6 L410.0 174.5 L410.0 173.8Z M390.3 201.3 L392.3 199.8 L394.1 199.3 L397.2 198.5 L400.8 197.0 L401.9 194.0 L403.6 194.6 L404.4 192.9 L406.5 190.1 L408.6 189.5 L410.5 190.9 L412.2 190.9 L414.3 187.0 L421.4 186.7 L421.4 224.4 L411.5 216.9 L407.2 218.1 L404.4 219.3 L403.6 220.8 L398.7 220.8 L395.8 222.7 L391.8 221.5 L392.6 217.6 L391.6 214.3 L390.4 210.2 L389.4 207.8 L389.7 203.9 L390.3 201.3Z M341.8 155.5 L343.5 157.4 L344.3 158.8 L343.2 161.0 L341.8 161.0 L341.5 158.1 L341.8 155.5Z M107.1 137.6 L110.0 135.9 L112.8 135.6 L114.9 136.6 L118.5 138.2 L122.5 140.2 L117.8 140.6 L117.1 139.4 L114.2 137.7 L111.4 136.8 L109.2 137.3 L107.1 137.6Z M122.2 142.7 L124.5 140.6 L128.4 140.8 L130.7 142.6 L129.2 143.0 L127.0 143.5 L124.9 143.2 L122.2 142.7Z M116.6 142.9 L119.5 143.2 L119.5 143.8 L116.6 143.5 L116.6 142.9Z M132.4 142.7 L134.7 142.9 L134.6 143.5 L132.4 143.5 L132.4 142.7Z M245.8 111.0 L250.2 110.6 L249.5 113.3 L245.8 111.7 L245.8 111.0Z M239.7 105.5 L241.8 105.5 L241.7 108.8 L240.1 109.2 L239.7 105.5Z M240.2 102.6 L241.5 101.6 L241.5 104.5 L240.5 104.5 L240.2 102.6Z M261.4 115.3 L265.4 115.8 L265.3 116.3 L261.4 116.0 L261.4 115.3Z M273.9 116.3 L277.1 115.1 L276.4 116.5 L274.5 117.0 L273.9 116.3Z M45.4 85.4 L50.2 86.7 L52.5 90.4 L50.5 90.2 L45.4 85.4Z M38.8 77.4 L40.7 77.9 L41.7 82.2 L39.8 79.8 L38.8 77.4Z M8.3 68.8 L11.5 67.7 L11.1 69.8 L8.3 70.9 L8.3 68.8Z M136.3 87.4 L140.1 89.1 L139.1 89.1 L136.3 88.0 L136.3 87.4Z"/><path fill="none" stroke="#e6c9cd" stroke-width="0.55" stroke-linejoin="round" d="M53.1 89.3 L92.9 89.3 L100.7 91.5 L107.8 94.6 L110.7 97.1 L110.7 102.6 L115.6 101.2 L119.2 99.3 L121.8 97.7 L126.3 97.7 L128.4 94.6 L131.6 93.4 L132.7 97.7 M27.5 29.7 L27.5 61.3 L32.4 65.3 L36.0 63.6 L38.8 70.4 L43.1 74.2 M61.5 120.6 L64.7 120.6 L70.1 122.6 L74.1 122.6 L76.5 121.8 L79.4 125.6 L81.5 126.4 L83.6 125.1 L86.5 128.8 L89.8 131.3 M96.9 148.7 L98.6 144.7 L101.1 143.8 L102.4 142.9 M101.1 143.8 L101.1 146.6 L102.6 146.9 M101.0 148.8 L103.1 150.3 M103.3 150.9 L106.1 148.1 L109.7 147.9 M106.1 153.6 L109.0 153.9 M110.0 155.8 L110.1 157.9 M126.6 152.6 L124.9 156.6 L125.6 159.5 L132.0 160.7 L132.7 166.7 L128.7 167.8 M128.7 167.8 L128.4 175.5 L124.2 179.9 L127.7 185.2 L135.1 183.8 L142.0 189.3 L145.5 193.0 L145.8 197.0 L145.5 201.6 L149.1 204.7 L150.5 207.2 L151.5 209.7 L146.1 214.6 L152.1 220.5 M142.7 157.4 L140.8 162.1 L142.7 162.4 L143.0 167.4 L147.6 166.7 L151.2 166.2 L154.5 163.8 M146.6 161.0 L145.5 167.4 M151.2 161.2 L150.5 166.2 M136.3 163.8 L140.8 162.1 M132.7 166.7 L136.3 163.8 M136.3 163.8 L137.7 166.4 L143.0 167.4 M113.8 174.3 L116.4 176.3 L120.6 171.6 L120.9 169.5 L117.4 168.4 L115.9 167.5 M120.9 169.5 L124.2 172.8 L128.4 175.5 M128.0 196.0 L129.2 194.8 L129.9 191.8 L129.2 185.2 L127.7 185.2 M129.2 194.8 L131.0 200.8 L132.7 203.1 L130.6 209.4 L128.4 215.9 L128.4 222.7 L126.3 229.8 L126.0 239.3 L124.9 251.9 M132.7 203.1 L139.0 202.0 L145.5 198.5 M139.0 202.0 L146.1 206.7 L150.3 207.2 M146.1 214.6 L144.9 221.0 M146.1 206.7 L144.7 209.7 L148.6 210.0 L151.5 209.7 M224.9 116.3 L226.3 121.1 L215.6 126.9 L215.6 129.1 L209.5 128.5 M215.6 129.1 L221.2 132.8 L218.8 132.9 L220.2 145.7 L210.9 147.9 L204.5 146.4 M215.6 131.2 L210.9 131.2 L210.9 135.3 L209.5 138.5 L203.8 138.5 M240.2 113.0 L238.7 118.4 L240.8 121.4 L241.5 124.4 L242.2 133.5 L245.1 135.1 M244.4 119.6 L241.5 124.4 M263.6 122.1 L263.6 137.4 L272.5 137.4 L280.6 137.4 M245.1 135.1 L249.3 135.9 L262.1 141.2 L262.1 146.9 L259.3 151.3 L260.0 153.8 L262.1 157.1 M263.6 140.5 L262.1 140.5 L262.1 141.2 M221.2 132.8 L232.3 142.0 L234.0 141.7 L234.0 145.3 L228.3 147.9 L220.2 145.7 M245.1 135.1 L238.7 139.2 L234.0 141.7 M249.3 135.9 L250.8 139.7 L250.0 145.3 L247.3 149.8 M233.1 152.7 L238.0 150.9 L247.3 149.8 L248.6 151.1 M234.0 145.3 L233.1 152.7 M228.3 147.9 L231.1 151.7 L233.1 152.7 M262.1 146.9 L262.1 157.1 L267.1 162.4 L272.1 164.2 L276.4 163.5 L279.2 163.2 L286.3 163.9 L286.3 171.9 M276.4 163.5 L276.4 155.9 L279.9 148.9 L282.8 143.5 M279.9 148.9 L284.9 148.7 L289.3 151.3 M262.1 157.1 L266.4 155.8 L269.2 155.6 L274.9 155.2 L276.4 155.9 M286.3 163.9 L292.0 162.4 L296.3 158.1 L289.2 153.0 M276.4 170.9 L281.6 173.8 L283.8 176.2 M276.4 163.5 L276.4 170.9 L271.4 171.1 L270.1 171.5 M272.1 164.2 L270.7 167.8 L270.1 171.5 M245.5 177.8 L251.5 177.9 L259.3 185.2 L262.1 185.2 L267.1 187.1 L269.2 188.7 L270.7 181.3 L270.0 175.9 L270.1 171.5 M251.5 177.9 L250.8 172.3 L253.6 164.5 L260.0 163.1 L267.1 162.4 M244.8 194.5 L261.4 194.9 L264.0 195.2 M251.5 212.0 L256.4 211.7 L256.4 201.6 L257.9 196.0 M256.4 206.2 L264.3 207.3 L269.8 201.9 L274.8 207.7 M259.3 185.2 L259.3 188.1 L262.1 188.1 L261.4 194.9 M264.0 195.2 L271.2 192.0 L274.9 189.6 L277.1 186.0 L274.9 183.1 L270.7 181.3 M277.2 186.0 L285.6 184.5 M269.8 201.9 L272.5 202.2 L274.9 197.8 L274.6 193.6 L271.2 192.0 M274.9 189.6 L278.2 194.0 M270.7 181.3 L276.4 183.1 L277.2 186.0 M240.1 162.8 L244.4 159.8 L248.6 151.1 L250.0 158.8 L250.8 166.7 L246.5 166.2 L241.9 166.2 M248.6 151.1 L249.3 155.2 L250.0 158.8 M250.0 158.8 L254.3 158.1 L260.0 153.8 M253.6 164.5 L250.8 166.7 M241.9 168.1 L244.1 168.1 L244.1 166.2 M246.5 166.2 L248.6 170.2 L248.5 172.3 L243.9 175.1 M215.9 158.7 L217.3 163.2 M224.0 162.2 L224.0 153.8 M229.7 160.8 L229.3 153.8 M231.8 160.5 L233.1 152.7 M211.6 159.7 L215.9 158.7 L216.6 154.9 L211.6 151.7 L208.5 151.4 L204.2 151.7 M220.2 154.8 L224.0 153.8 L229.3 153.8 L233.1 152.7 M216.6 154.9 L220.2 154.8 L220.2 152.3 L222.3 150.1 L228.3 147.9 M209.1 156.6 L213.4 157.5 L211.6 159.7 M206.7 153.8 L208.5 151.4 M215.5 103.8 L219.2 104.3 L218.0 107.9 L217.5 112.4 M225.4 100.9 L229.0 102.2 L232.6 102.8 M231.6 84.7 L234.0 87.1 L236.5 88.2 L239.7 89.3 L238.8 92.3 L236.7 95.2 L238.0 95.9 L239.0 99.7 L238.7 100.1 M236.5 88.2 L237.1 86.5 L236.5 83.1 L238.2 79.8 M234.0 84.0 L236.5 84.5 M238.8 92.3 L241.7 92.5 L242.9 93.8 L242.8 94.6 L240.8 96.1 L238.0 95.9 M241.7 92.5 L246.5 92.5 L247.6 89.8 L245.2 86.5 L249.0 84.9 L248.2 78.1 M242.9 93.8 L245.4 93.6 L247.5 94.6 L247.5 96.5 M247.5 94.6 L250.9 94.2 L252.2 91.5 L252.0 90.2 L247.6 89.8 M249.0 84.9 L254.7 88.2 L260.0 89.1 L262.1 86.0 L261.6 82.6 L262.0 77.9 L260.4 76.9 L256.2 76.9 M252.2 91.5 L254.7 91.9 L259.6 90.6 L260.0 89.1 M252.0 90.2 L254.7 88.2 M250.9 94.2 L254.7 95.9 L256.9 95.2 L259.6 90.6 M247.5 96.5 L249.6 96.9 L254.7 95.9 M250.5 97.3 L250.8 99.7 L253.0 101.6 L254.3 102.8 M255.0 97.9 L255.7 100.7 L254.3 102.8 L255.6 103.8 L257.2 101.8 L256.9 95.2 M255.6 103.8 L257.3 105.5 L256.7 107.9 M257.3 105.5 L260.6 104.9 L265.4 104.1 M257.2 101.8 L259.9 103.0 L260.6 104.9 M259.9 103.0 L260.1 99.5 L256.9 95.2 M260.1 99.5 L263.6 100.3 L268.7 100.3 M259.6 90.6 L263.4 92.1 L265.8 90.8 L268.1 96.7 L270.2 97.3 M265.4 104.1 L267.8 103.6 M262.1 86.0 L259.6 90.6 M265.8 90.8 L270.7 94.8 M261.6 82.6 L273.2 82.4 L276.9 83.1 L279.2 86.5 L284.9 88.0 L284.5 91.7 L282.3 93.4 M262.0 77.9 L264.6 75.7 L265.8 73.7 L268.1 72.4 L267.4 69.3 L267.0 63.9 M257.9 72.7 L265.8 73.7 M258.0 69.3 L264.0 67.7 L267.4 69.3 M268.1 72.4 L271.9 73.9 L274.5 79.3 L273.2 82.4 M243.8 65.3 L245.8 61.6 L245.4 57.8 L245.5 51.7 L248.2 46.1 L251.3 37.9 L253.9 34.1 L257.2 31.7 M257.2 31.7 L261.6 36.4 L262.0 43.3 L262.4 44.0 M257.2 31.7 L264.7 32.1 L267.8 28.1 L269.2 31.7 L271.9 29.7 M269.0 31.7 L270.7 37.2 L269.4 40.1 L270.8 50.7 L272.8 53.5 L267.5 60.8 M240.4 75.7 L242.1 75.9 M217.6 75.4 L216.5 76.7 L219.0 77.7 M265.4 104.1 L265.8 104.9 L265.0 106.0 M279.2 113.0 L282.8 113.1 L288.3 112.4 L291.7 112.4 L290.6 108.4 L290.0 105.3 L287.0 104.5 M291.7 112.4 L293.4 116.0 L292.7 118.0 L296.0 123.1 L297.0 124.7 M290.6 108.4 L291.7 107.9 L294.1 109.4 L296.6 108.4 L297.5 110.3 M290.0 105.3 L294.1 105.3 L294.4 103.9 L297.0 103.9 M284.9 100.9 L290.3 102.4 L294.4 103.9 M294.1 105.3 L292.0 105.3 L292.0 108.1 L294.1 109.4 M278.8 114.6 L280.2 114.2 L282.8 113.1 M288.3 112.4 L286.6 116.6 L283.2 119.1 L280.3 120.9 L278.9 120.1 L279.1 117.0 M283.2 119.1 L283.8 121.1 L287.7 122.8 L291.6 126.0 L294.1 126.2 L295.8 124.7 M280.3 120.9 L280.6 122.3 L282.0 123.9 L281.3 124.7 L279.2 126.0 L277.8 125.6 M278.5 119.6 L278.5 122.3 L277.8 125.6 M276.6 122.6 L277.6 125.6 M294.1 126.2 L295.6 127.2 L296.8 127.2 M301.4 133.9 L302.8 136.0 L306.5 136.3 L307.2 137.4 L306.2 140.5 L302.0 142.0 L297.4 143.2 L294.0 144.7 L289.7 144.2 L288.9 145.9 M306.5 136.3 L307.6 134.2 L308.2 132.9 M302.0 142.0 L303.5 145.6 M315.6 132.4 L317.9 129.3 L314.6 125.1 L315.5 122.4 L314.2 118.5 L315.0 115.3 L312.3 111.9 L308.1 110.8 L304.8 112.1 M314.6 125.1 L322.3 124.9 L326.6 121.6 L329.3 118.0 L329.8 113.7 L334.5 112.4 M315.0 115.3 L319.7 114.0 L322.6 112.1 L329.8 113.7 M322.6 112.1 L324.7 112.8 L329.0 110.3 L333.0 108.3 L332.7 107.5 M294.1 90.6 L295.3 86.5 L300.2 83.3 L306.2 85.6 L313.3 85.4 L315.5 78.1 L325.0 75.4 L329.0 77.4 L336.8 77.2 L341.8 85.4 L348.9 87.1 L352.2 88.9 M294.1 90.6 L297.7 95.0 M303.4 103.2 L307.6 104.9 L311.2 102.2 L313.3 97.7 L311.3 96.5 L307.6 97.7 L307.6 104.9 M302.5 103.9 L305.9 104.9 L307.6 104.9 M308.1 110.8 L311.2 102.2 M313.3 97.7 L321.9 101.6 L324.7 105.5 L328.3 103.6 L332.5 102.8 L342.1 103.2 L342.2 97.7 L345.3 97.3 L349.6 93.4 L352.2 88.9 M322.6 112.1 L324.4 108.4 L328.3 106.6 L332.7 107.5 L332.5 102.8 M311.2 102.2 L316.2 100.7 L319.6 100.7 L321.9 101.6 M316.5 115.8 L322.6 112.1 M321.9 101.6 L322.6 105.5 L324.4 108.4 M352.2 88.9 L357.4 86.0 L367.8 86.0 L373.1 84.0 L379.8 86.5 L389.4 87.4 L394.0 87.6 L398.5 94.2 L392.7 96.7 L387.1 100.3 L377.3 104.3 L365.1 102.2 L357.4 97.3 L352.2 88.9 M394.0 87.6 L398.7 79.6 L405.8 79.8 L409.3 87.6 L414.3 92.1 L419.6 90.8 L417.2 97.7 L414.6 102.4 L413.7 102.8 M413.7 102.8 L410.0 103.6 L408.5 103.9 L404.9 107.1 M407.5 111.0 L410.6 109.9 M332.7 107.5 L334.5 112.4 L338.9 115.4 L340.4 120.6 L343.5 124.7 L350.0 127.7 L354.3 128.0 L358.8 128.3 L364.5 125.9 L366.4 127.5 L368.4 131.5 L366.8 134.3 L368.8 137.4 L371.9 138.2 L373.4 136.8 L377.8 135.4 L381.6 138.2 M334.5 112.4 L333.8 116.6 L335.1 120.9 L331.8 124.9 L328.0 128.0 L329.0 133.7 L325.0 134.8 M343.5 124.7 L341.9 126.7 L346.8 129.0 L353.3 130.5 L354.3 128.0 M353.3 130.5 L355.7 130.1 L358.8 129.9 L358.8 128.3 M353.3 130.5 L354.3 133.9 L354.6 137.7 M354.3 133.9 L359.1 132.8 L358.1 135.9 L359.3 139.1 M359.1 132.8 L362.5 132.4 L366.4 127.5 M359.3 139.1 L362.5 132.4 M366.8 134.3 L368.8 137.4 M368.8 137.4 L370.4 139.9 L367.1 142.6 L368.7 145.9 L367.7 147.9 L369.1 152.5 L368.4 154.9 M370.4 139.9 L371.9 138.2 M370.4 139.9 L371.8 144.2 L373.2 143.2 L376.9 144.2 L378.2 148.8 L380.9 148.4 L381.0 151.9 L378.5 152.9 L376.5 154.6 M373.4 136.8 L377.2 140.6 L376.9 144.2 M377.2 140.6 L380.9 148.4 M374.3 152.7 L373.8 149.1 L378.2 148.8 M370.4 160.4 L373.2 160.7 M383.9 166.7 L390.8 167.4 L392.7 163.4 L395.3 163.5"/><path fill="#d4e5ea" d="M294.8 97.3 L297.7 94.6 L300.5 93.6 L303.4 94.4 L303.7 97.1 L301.2 98.5 L299.5 98.7 L299.8 102.6 L302.7 103.9 L304.1 106.4 L304.5 109.2 L304.8 112.3 L302.7 113.1 L300.5 113.3 L298.4 112.1 L297.5 110.1 L298.4 106.4 L297.0 103.9 L295.6 101.6 L294.8 99.7 L294.8 97.3Z M97.2 94.2 L101.4 91.5 L105.0 90.0 L107.5 92.5 L107.5 94.6 L104.3 94.6 L100.0 94.4 L97.2 94.2Z M103.1 103.6 L105.3 103.6 L106.4 98.1 L107.1 96.1 L105.0 96.1 L103.1 99.7 L103.1 103.6Z M107.8 95.7 L112.1 95.7 L114.2 98.5 L111.8 101.2 L110.7 101.2 L109.2 99.1 L107.8 95.7Z M109.4 104.1 L115.6 102.0 L115.6 101.4 L111.4 102.8 L109.4 103.6 L109.4 104.1Z M114.5 101.0 L119.5 100.7 L119.5 99.3 L114.5 100.1 L114.5 101.0Z M87.2 86.0 L90.8 86.0 L90.0 78.4 L87.2 79.1 L87.2 86.0Z M50.2 46.7 L58.8 46.7 L60.2 40.5 L53.1 40.1 L50.2 46.7Z M61.6 59.3 L67.3 59.3 L73.0 53.9 L68.7 53.9 L62.3 57.2 L61.6 59.3Z M311.2 100.3 L314.8 100.3 L315.5 96.7 L313.3 94.4 L311.2 96.7 L311.2 100.3Z M375.6 83.8 L378.0 83.8 L384.2 74.2 L383.0 73.4 L380.2 79.1 L375.6 83.8Z M273.2 169.1 L276.4 169.1 L276.4 173.1 L273.5 173.1 L273.2 169.1Z M271.1 61.9 L274.6 61.3 L274.2 57.5 L271.4 58.4 L271.1 61.9Z M332.5 96.7 L340.4 95.2 L340.4 94.0 L333.2 94.6 L332.5 96.7Z"/><path d="M0.0 61.9 L11.2 68.1 L24.3 70.5 L30.9 81.2 L38.4 93.4 L44.9 102.7 L45.5 115.8 L54.3 124.3 L62.7 120.9 L83.3 120.5 L74.9 108.3 L64.6 96.2 L54.3 78.4 L46.8 66.2" fill="none" stroke="#6fa1c2" stroke-width="1.5" stroke-dasharray="5 3.6" stroke-linejoin="round"/><path d="M89.9 88.7 L89.5 108.3 L88.9 131.2 L112.3 131.7 L117.0 126.1 L123.6 118.6 L130.1 110.6 L142.3 106.5 L154.5 100.5 L159.1 92.4 L157.6 80.3 L150.7 68.6 L143.2 62.5 L135.7 63.4 L129.2 72.8 L118.0 85.9 L110.5 90.9 L101.1 89.6 L89.9 88.7" fill="none" stroke="#6fa1c2" stroke-width="1.5" stroke-dasharray="5 3.6" stroke-linejoin="round"/><path d="M0.0 134.2 L6.6 134.9 L10.9 139.8 L8.4 145.8 L0.0 145.2" fill="none" stroke="#6fa1c2" stroke-width="1.5" stroke-dasharray="5 3.6" stroke-linejoin="round"/><path d="M130.7 141.7 L133.7 141.7 L133.7 145.0 L130.7 145.0Z" fill="none" stroke="#6fa1c2" stroke-width="1.5" stroke-dasharray="5 3.6" stroke-linejoin="round"/><path d="M221.1 57.8 L236.4 56.3" fill="none" stroke="#6fa1c2" stroke-width="1.5" stroke-dasharray="5 3.6" stroke-linejoin="round"/><path d="M221.1 58.7 L221.1 74.6 L223.3 84.0 L221.1 90.6 L230.4 90.9 L243.6 86.8 L249.2 80.3" fill="none" stroke="#6fa1c2" stroke-width="1.5" stroke-dasharray="5 3.6" stroke-linejoin="round"/><path d="M247.3 54.0 L254.8 45.6 L264.1 34.4 L267.5 42.8 L269.4 52.2 L269.8 61.5 L266.4 72.8 L262.6 83.1" fill="none" stroke="#6fa1c2" stroke-width="1.5" stroke-dasharray="5 3.6" stroke-linejoin="round"/><path d="M380.6 142.4 L384.0 127.1 L388.1 115.8 L393.3 107.6 L403.1 106.5 L399.3 117.3 L400.8 128.0 L395.6 136.4 L387.7 141.1" fill="none" stroke="#e2965d" stroke-width="1.5" stroke-dasharray="5 3.6" stroke-linejoin="round"/><path d="M380.2 123.3 L384.0 122.6 L387.7 125.2 L392.4 123.7 L396.1 122.6 L400.8 121.8" fill="none" stroke="#7fb0cf" stroke-width="1"/><path d="M176.9 179.0 L210.6 77.7 L220.3 63.8 L235.8 61.2" fill="none" stroke="#e8b030" stroke-width="2.8" stroke-linejoin="round" stroke-linecap="round"/><path d="M225.9 51.5 A10 10 0 1 1 244.3 51.5 L235.1 61.4Z" fill="#474747" fill-opacity="0.93"/><text x="235.1" y="51.5" text-anchor="middle" font-family="Liberation Sans, sans-serif" font-size="12" font-weight="400" fill="#f4f4f4">1</text><path d="M167.7 167.5 A10 10 0 1 1 186.1 167.5 L176.9 179.2Z" fill="#474747" fill-opacity="0.93"/><text x="176.9" y="167.5" text-anchor="middle" font-family="Liberation Sans, sans-serif" font-size="12" font-weight="400" fill="#f4f4f4">2</text></svg>
<span class="t" style="left:70.30px;top:727.84px;font-size:9.4px;line-height:12px;color:#42577a;letter-spacing:0.996px;font-weight:700;text-shadow:0 0 2px #faf7f2,0 0 2px #faf7f2;">NORTH</span>
<span class="t" style="left:63.75px;top:740.04px;font-size:9.4px;line-height:12px;color:#42577a;letter-spacing:0.948px;font-weight:700;text-shadow:0 0 2px #faf7f2,0 0 2px #faf7f2;">AMERICA</span>
<span class="t" style="left:138.25px;top:843.04px;font-size:9.4px;line-height:12px;color:#42577a;letter-spacing:0.920px;font-weight:700;text-shadow:0 0 2px #faf7f2,0 0 2px #faf7f2;">SOUTH</span>
<span class="t" style="left:131.75px;top:855.64px;font-size:9.4px;line-height:12px;color:#42577a;letter-spacing:0.948px;font-weight:700;text-shadow:0 0 2px #faf7f2,0 0 2px #faf7f2;">AMERICA</span>
<span class="t" style="left:236.05px;top:734.04px;font-size:9.4px;line-height:12px;color:#42577a;letter-spacing:0.800px;font-weight:700;text-shadow:0 0 2px #faf7f2,0 0 2px #faf7f2;">EUROPE</span>
<span class="t" style="left:358.50px;top:733.44px;font-size:9.4px;line-height:12px;color:#42577a;letter-spacing:0.635px;font-weight:700;text-shadow:0 0 2px #faf7f2,0 0 2px #faf7f2;">ASIA</span>
<span class="t" style="left:249.40px;top:802.04px;font-size:9.4px;line-height:12px;color:#42577a;letter-spacing:0.749px;font-weight:700;text-shadow:0 0 2px #faf7f2,0 0 2px #faf7f2;">AFRICA</span>
<span class="t" style="left:408.10px;top:855.74px;font-size:9.4px;line-height:12px;color:#42577a;letter-spacing:0.384px;font-weight:700;text-shadow:0 0 2px #faf7f2,0 0 2px #faf7f2;clip-path:inset(0 1px 0 0);">AUS</span>
<div class="r" style="left:27.00px;top:664.00px;width:34.00px;height:65.00px;background:#fff;border:2px solid rgba(0,0,0,.22);border-radius:4px;background-clip:padding-box;"></div>
<div class="r" style="left:29.00px;top:696.00px;width:30.00px;height:1.00px;background:#ccc;"></div>
<svg class="i" style="left:29px;top:666px" width="30" height="61" viewBox="0 0 30 61"><path d="M9 15h12M15 9v12M9.3 45.5h11.4" stroke="#111" stroke-width="2.3" fill="none"/></svg>
<div class="r" style="left:27.00px;top:738.00px;width:34.00px;height:34.50px;background:#fff;border:2px solid rgba(0,0,0,.22);border-radius:4px;background-clip:padding-box;"></div>
<svg class="i" style="left:29px;top:740px" width="30" height="30" viewBox="0 0 30 30"><path d="M7.5 12.5v-5h5M17.5 7.5h5v5M22.5 17.5v5h-5M12.5 22.5h-5v-5" stroke="#222" stroke-width="2.6" fill="none"/></svg>
<div class="r" style="left:266.00px;top:880.00px;width:162.00px;height:14.00px;background:rgba(255,255,255,.72);border-bottom-right-radius:8px;"></div>
<span class="t" style="left:271.40px;top:879.58px;font-size:9.3px;line-height:12px;color:#2a7ab0;letter-spacing:-0.031px;">Leaflet </span>
<span class="t" style="left:301.66px;top:879.58px;font-size:9.3px;line-height:12px;color:#b4b4b4;letter-spacing:-0.020px;">|</span>
<span class="t" style="left:304.05px;top:879.58px;font-size:9.3px;line-height:12px;color:#222;letter-spacing:-0.033px;"> © </span>
<span class="t" style="left:315.97px;top:879.58px;font-size:9.3px;line-height:12px;color:#2a7ab0;letter-spacing:-0.041px;">OpenStreetMap</span>
<span class="t" style="left:381.09px;top:879.58px;font-size:9.3px;line-height:12px;color:#222;letter-spacing:-0.039px;">© </span>
<span class="t" style="left:390.45px;top:879.58px;font-size:9.3px;line-height:12px;color:#2a7ab0;letter-spacing:-0.053px;">CARTO</span>
<div class="r" style="left:444.00px;top:107.00px;width:1036.00px;height:81.50px;background:#f3f6fd;border-radius:6px;"></div>
<span class="t" style="left:460.00px;top:124.02px;font-size:11.2px;line-height:15px;color:#3a3a3a;letter-spacing:0.058px;">Ballast Port *</span>
<div class="r" style="left:460.00px;top:141.00px;width:330.50px;height:32.00px;background:#fafafa;border:1px solid #b8b8b8;border-radius:4.5px;"></div>
<span class="t" style="left:467.30px;top:146.95px;font-size:14px;line-height:18px;color:#212121;letter-spacing:-0.924px;">BERGEN</span>
<svg class="i" style="left:767.50px;top:146.80px" width="20" height="20" viewBox="0 0 24 24"><path fill="#6b6b6b" d="M7 10l5 5 5-5z"/></svg>
<span class="t" style="left:807.00px;top:124.02px;font-size:11.2px;line-height:15px;color:#3a3a3a;letter-spacing:-0.084px;">Voyage Start Date</span>
<div class="r" style="left:807.00px;top:141.00px;width:275.50px;height:32.00px;background:#fafafa;border:1px solid #b8b8b8;border-radius:4.5px;"></div>
<span class="t" style="left:814.30px;top:146.95px;font-size:14px;line-height:18px;color:#212121;letter-spacing:0.367px;">01/02/23 12:00</span>
<svg class="i" style="left:1057.70px;top:146.20px" width="21.6" height="21.6" viewBox="0 0 24 24"><path fill="#6b6b6b" d="M17 12h-5v5h5v-5zM16 1v2H8V1H6v2H5c-1.11 0-1.99.9-1.99 2L3 19c0 1.1.89 2 2 2h14c1.1 0 2-.9 2-2V5c0-1.1-.9-2-2-2h-1V1h-2zm3 18H5V8h14v11z"/></svg>
<span class="t" style="left:1092.00px;top:124.02px;font-size:11.2px;line-height:15px;color:#808080;letter-spacing:0.075px;">Lock</span>
<div class="r" style="left:1095.00px;top:151.20px;width:16.60px;height:16.60px;background:#b4b6be;border-radius:2px;"></div>
<svg class="i" style="left:1095px;top:151.2px" width="16.6" height="16.6" viewBox="0 0 16.6 16.6"><path d="M2.2 8.6L6.3 12.3L14.2 4.5" stroke="#fff" stroke-width="1.7" fill="none"/></svg>
<span class="t" style="left:1155.00px;top:124.02px;font-size:11.2px;line-height:15px;color:#808080;letter-spacing:-0.076px;">Waiting Days</span>
<div class="r" style="left:1155.00px;top:141.00px;width:275.50px;height:32.00px;background:#e9ecf5;border:1px solid #cfcfcf;border-radius:4.5px;"></div>
<span class="t" style="left:1395.20px;top:146.95px;font-size:14px;line-height:18px;color:#8c8c8c;letter-spacing:0.012px;">0.00</span>
<span class="t" style="left:1439.00px;top:124.02px;font-size:11.2px;line-height:15px;color:#3a3a3a;letter-spacing:0.075px;">Lock</span>
<div class="r" style="left:1442.50px;top:151.00px;width:16.50px;height:16.50px;border:2px solid #555;border-radius:2px;"></div>
<div class="r" style="left:1265.00px;top:97.00px;width:29.00px;height:3.00px;background:#cfcfcf;border-radius:2px;"></div>
<div class="r" style="left:434.30px;top:437.00px;width:1.70px;height:14.00px;background:#555;"></div>
<div class="r" style="left:444.00px;top:205.00px;width:1036.00px;height:131.00px;background:#fff;border:1px solid #dcdcdc;border-radius:4px;box-shadow:0 1px 2px rgba(0,0,0,.18);"></div>
<span class="t" style="left:453.00px;top:218.15px;font-size:14px;line-height:18px;color:#212121;letter-spacing:0.068px;-webkit-text-stroke:0.36px #212121;">Port Calls</span>
<div class="r" style="left:480.00px;top:250.00px;width:4.00px;height:86.00px;background:linear-gradient(90deg,rgba(0,0,0,.10),rgba(0,0,0,0));"></div>
<span class="t" style="left:486.00px;top:259.70px;font-size:12.4px;line-height:16px;color:#2b2b2b;letter-spacing:0.241px;-webkit-text-stroke:0.32px #2b2b2b;">Port</span>
<span class="t" style="left:601.00px;top:259.70px;font-size:12.4px;line-height:16px;color:#2b2b2b;letter-spacing:-0.056px;-webkit-text-stroke:0.32px #2b2b2b;">Reason for Call</span>
<span class="t" style="left:716.00px;top:259.70px;font-size:12.4px;line-height:16px;color:#2b2b2b;letter-spacing:0.084px;-webkit-text-stroke:0.32px #2b2b2b;">Arrived</span>
<span class="t" style="left:867.00px;top:259.70px;font-size:12.4px;line-height:16px;color:#2b2b2b;letter-spacing:-0.014px;-webkit-text-stroke:0.32px #2b2b2b;">Departed</span>
<span class="t" style="left:1068.21px;top:259.70px;font-size:12.4px;line-height:16px;color:#2b2b2b;letter-spacing:0.089px;-webkit-text-stroke:0.32px #2b2b2b;">Port Cost</span>
<span class="t" style="left:1133.00px;top:259.70px;font-size:12.4px;line-height:16px;color:#2b2b2b;letter-spacing:-0.079px;-webkit-text-stroke:0.32px #2b2b2b;">Currency</span>
<span class="t" style="left:1272.52px;top:259.70px;font-size:12.4px;line-height:16px;color:#2b2b2b;letter-spacing:0.046px;-webkit-text-stroke:0.32px #2b2b2b;">Handling Cost</span>
<span class="t" style="left:1417.30px;top:259.70px;font-size:12.4px;line-height:16px;color:#2b2b2b;letter-spacing:0.041px;-webkit-text-stroke:0.32px #2b2b2b;">Distance</span>
<div class="r" style="left:445.00px;top:287.00px;width:1035.00px;height:1.00px;background:#d4d4d4;"></div>
<div class="r" style="left:445.00px;top:311.00px;width:1035.00px;height:1.00px;background:#d4d4d4;"></div>
<svg class="i" style="left:452.85px;top:289.85px" width="18.3" height="18.3" viewBox="0 0 24 24"><path fill="#707070" d="M19 19H5V5h7V3H5c-1.11 0-2 .9-2 2v14c0 1.1.89 2 2 2h14c1.1 0 2-.9 2-2v-7h-2v7zM14 3v2h3.59l-9.83 9.83 1.41 1.41L19 6.41V10h2V3h-7z"/></svg>
<span class="t" style="left:486.00px;top:292.20px;font-size:12.4px;line-height:16px;color:#212121;letter-spacing:-0.936px;">BERGEN</span>
<span class="t" style="left:601.00px;top:292.20px;font-size:12.4px;line-height:16px;color:#777777;letter-spacing:0.026px;">Loading</span>
<svg class="i" style="left:714.10px;top:289.95px" width="17.7" height="17.7" viewBox="0 0 24 24"><path fill="#696969" d="M12 17c1.1 0 2-.9 2-2s-.9-2-2-2-2 .9-2 2 .9 2 2 2zm6-9h-1V6c0-2.76-2.24-5-5-5S7 3.24 7 6h1.9c0-1.71 1.39-3.1 3.1-3.1 1.71 0 3.1 1.39 3.1 3.1v2H6c-1.1 0-2 .9-2 2v10c0 1.1.9 2 2 2h12c1.1 0 2-.9 2-2V10c0-1.1-.9-2-2-2zm0 12H6V10h12v10z"/></svg>
<span class="t" style="left:742.00px;top:292.20px;font-size:12.4px;line-height:16px;color:#212121;letter-spacing:0.233px;">01/02/23 12:00</span>
<svg class="i" style="left:864.95px;top:289.95px" width="17.7" height="17.7" viewBox="0 0 24 24"><path fill="#696969" d="M12 17c1.1 0 2-.9 2-2s-.9-2-2-2-2 .9-2 2 .9 2 2 2zm6-9h-1V6c0-2.76-2.24-5-5-5S7 3.24 7 6h1.9c0-1.71 1.39-3.1 3.1-3.1 1.71 0 3.1 1.39 3.1 3.1v2H6c-1.1 0-2 .9-2 2v10c0 1.1.9 2 2 2h12c1.1 0 2-.9 2-2V10c0-1.1-.9-2-2-2zm0 12H6V10h12v10z"/></svg>
<span class="t" style="left:892.80px;top:292.20px;font-size:12.4px;line-height:16px;color:#212121;letter-spacing:0.233px;">01/02/23 12:00</span>
<span class="t" style="left:1113.73px;top:292.20px;font-size:12.4px;line-height:16px;color:#212121;letter-spacing:0.073px;">0</span>
<span class="t" style="left:1133.00px;top:292.20px;font-size:12.4px;line-height:16px;color:#212121;letter-spacing:-0.880px;">USD</span>
<span class="t" style="left:1300.21px;top:292.20px;font-size:12.4px;line-height:16px;color:#777777;letter-spacing:-0.371px;">0.00 USD</span>
<span class="t" style="left:1421.30px;top:292.20px;font-size:12.4px;line-height:16px;color:#777777;letter-spacing:0.024px;">0.00 nm</span>
<svg class="i" style="left:452.85px;top:313.85px" width="18.3" height="18.3" viewBox="0 0 24 24"><path fill="#707070" d="M19 19H5V5h7V3H5c-1.11 0-2 .9-2 2v14c0 1.1.89 2 2 2h14c1.1 0 2-.9 2-2v-7h-2v7zM14 3v2h3.59l-9.83 9.83 1.41 1.41L19 6.41V10h2V3h-7z"/></svg>
<span class="t" style="left:486.00px;top:316.20px;font-size:12.4px;line-height:16px;color:#212121;letter-spacing:-0.035px;">NATAL</span>
<span class="t" style="left:601.00px;top:316.20px;font-size:12.4px;line-height:16px;color:#777777;letter-spacing:0.002px;">Discharging</span>
<svg class="i" style="left:714.10px;top:313.95px" width="17.7" height="17.7" viewBox="0 0 24 24"><path fill="#696969" d="M12 17c1.1 0 2-.9 2-2s-.9-2-2-2-2 .9-2 2 .9 2 2 2zm6-9h-1V6c0-2.76-2.24-5-5-5S7 3.24 7 6h1.9c0-1.71 1.39-3.1 3.1-3.1 1.71 0 3.1 1.39 3.1 3.1v2H6c-1.1 0-2 .9-2 2v10c0 1.1.9 2 2 2h12c1.1 0 2-.9 2-2V10c0-1.1-.9-2-2-2zm0 12H6V10h12v10z"/></svg>
<span class="t" style="left:742.00px;top:316.20px;font-size:12.4px;line-height:16px;color:#212121;letter-spacing:0.233px;">20/02/23 23:30</span>
<svg class="i" style="left:864.95px;top:313.95px" width="17.7" height="17.7" viewBox="0 0 24 24"><path fill="#696969" d="M12 17c1.1 0 2-.9 2-2s-.9-2-2-2-2 .9-2 2 .9 2 2 2zm6-9h-1V6c0-2.76-2.24-5-5-5S7 3.24 7 6h1.9c0-1.71 1.39-3.1 3.1-3.1 1.71 0 3.1 1.39 3.1 3.1v2H6c-1.1 0-2 .9-2 2v10c0 1.1.9 2 2 2h12c1.1 0 2-.9 2-2V10c0-1.1-.9-2-2-2zm0 12H6V10h12v10z"/></svg>
<span class="t" style="left:892.80px;top:316.20px;font-size:12.4px;line-height:16px;color:#212121;letter-spacing:0.233px;">20/02/23 23:30</span>
<span class="t" style="left:1113.73px;top:316.20px;font-size:12.4px;line-height:16px;color:#212121;letter-spacing:0.073px;">0</span>
<span class="t" style="left:1133.00px;top:316.20px;font-size:12.4px;line-height:16px;color:#212121;letter-spacing:-0.880px;">USD</span>
<span class="t" style="left:1300.21px;top:316.20px;font-size:12.4px;line-height:16px;color:#777777;letter-spacing:-0.371px;">0.00 USD</span>
<span class="t" style="left:1397.50px;top:316.20px;font-size:12.4px;line-height:16px;color:#777777;letter-spacing:-0.056px;">4,490.50 nm</span>
<div class="r" style="left:444.00px;top:353.00px;width:1036.00px;height:107.00px;background:#fff;border:1px solid #dcdcdc;border-radius:4px;box-shadow:0 1px 2px rgba(0,0,0,.18);"></div>
<span class="t" style="left:453.00px;top:366.15px;font-size:14px;line-height:18px;color:#212121;letter-spacing:-0.108px;-webkit-text-stroke:0.36px #212121;">Cargoes</span>
<div class="r" style="left:445.00px;top:435.50px;width:1035.00px;height:24.00px;background:#e2e8fb;"></div>
<div class="r" style="left:480.00px;top:398.00px;width:4.00px;height:62.00px;background:linear-gradient(90deg,rgba(0,0,0,.10),rgba(0,0,0,0));"></div>
<span class="t" style="left:485.70px;top:407.90px;font-size:12.4px;line-height:16px;color:#2b2b2b;letter-spacing:-0.107px;-webkit-text-stroke:0.32px #2b2b2b;">Reference</span>
<span class="t" style="left:574.30px;top:407.90px;font-size:12.4px;line-height:16px;color:#2b2b2b;letter-spacing:0.099px;-webkit-text-stroke:0.32px #2b2b2b;">Counterpart</span>
<span class="t" style="left:663.30px;top:407.90px;font-size:12.4px;line-height:16px;color:#2b2b2b;letter-spacing:0.161px;-webkit-text-stroke:0.32px #2b2b2b;">Commodity</span>
<span class="t" style="left:759.63px;top:407.90px;font-size:12.4px;line-height:16px;color:#2b2b2b;letter-spacing:0.108px;-webkit-text-stroke:0.32px #2b2b2b;">B/L Quantity</span>
<span class="t" style="left:840.90px;top:407.90px;font-size:12.4px;line-height:16px;color:#2b2b2b;letter-spacing:-0.488px;-webkit-text-stroke:0.32px #2b2b2b;">Booked Qua…</span>
<span class="t" style="left:929.90px;top:407.90px;font-size:12.4px;line-height:16px;color:#2b2b2b;letter-spacing:-0.059px;-webkit-text-stroke:0.32px #2b2b2b;">UoM</span>
<span class="t" style="left:1018.90px;top:407.90px;font-size:12.4px;line-height:16px;color:#2b2b2b;letter-spacing:-0.344px;-webkit-text-stroke:0.32px #2b2b2b;">Use Max Int…</span>
<span class="t" style="left:1107.90px;top:407.90px;font-size:12.4px;line-height:16px;color:#2b2b2b;letter-spacing:-0.260px;-webkit-text-stroke:0.32px #2b2b2b;">Rule</span>
<span class="t" style="left:1205.79px;top:407.90px;font-size:12.4px;line-height:16px;color:#2b2b2b;letter-spacing:-0.094px;-webkit-text-stroke:0.32px #2b2b2b;">Freight Rate</span>
<span class="t" style="left:1285.50px;top:407.90px;font-size:12.4px;line-height:16px;color:#2b2b2b;letter-spacing:-0.079px;-webkit-text-stroke:0.32px #2b2b2b;">Currency</span>
<span class="t" style="left:1374.20px;top:407.90px;font-size:12.4px;line-height:16px;color:#2b2b2b;letter-spacing:-0.596px;-webkit-text-stroke:0.32px #2b2b2b;">Exchange R…</span>
<div class="r" style="left:445.00px;top:435.00px;width:1035.00px;height:1.00px;background:#d4d4d4;"></div>
<svg class="i" style="left:452.85px;top:437.15px" width="18.3" height="18.3" viewBox="0 0 24 24"><path fill="#707070" d="M19 19H5V5h7V3H5c-1.11 0-2 .9-2 2v14c0 1.1.89 2 2 2h14c1.1 0 2-.9 2-2v-7h-2v7zM14 3v2h3.59l-9.83 9.83 1.41 1.41L19 6.41V10h2V3h-7z"/></svg>
<span class="t" style="left:485.70px;top:439.50px;font-size:12.4px;line-height:16px;color:#777777;letter-spacing:0.073px;">76479851</span>
<span class="t" style="left:574.30px;top:439.50px;font-size:12.4px;line-height:16px;color:#212121;letter-spacing:-0.353px;">Mabl Charte…</span>
<span class="t" style="left:663.30px;top:439.50px;font-size:12.4px;line-height:16px;color:#212121;letter-spacing:-0.342px;">Mabl Comm…</span>
<svg class="i" style="left:750.20px;top:437.00px" width="18" height="18" viewBox="0 0 24 24"><path fill="#707070" d="M21 8c-1.45 0-2.26 1.44-1.93 2.51l-3.55 3.56c-.3-.09-.74-.09-1.04 0l-2.55-2.55C12.27 10.45 11.46 9 10 9c-1.45 0-2.27 1.44-1.93 2.52l-4.56 4.55C2.44 15.74 1 16.55 1 18c0 1.1.9 2 2 2 1.45 0 2.26-1.44 1.93-2.51l4.55-4.56c.3.09.74.09 1.04 0l2.55 2.55C12.73 16.55 13.54 18 15 18c1.45 0 2.27-1.44 1.93-2.52l3.56-3.55c1.07.33 2.51-.48 2.51-1.93 0-1.1-.9-2-2-2zM15 9l.94-2.07L18 6l-2.06-.93L15 3l-.92 2.07L12 6l2.08.93zM3.5 11L4 9l2-.5L4 8l-.5-2L3 8l-2 .5L3 9z"/></svg>
<span class="t" style="left:778.30px;top:439.50px;font-size:12.4px;line-height:16px;color:#212121;letter-spacing:-0.615px;">30,000….</span>
<span class="t" style="left:855.84px;top:439.50px;font-size:12.4px;line-height:16px;color:#777777;letter-spacing:-0.060px;">30,000.000</span>
<span class="t" style="left:929.90px;top:439.50px;font-size:12.4px;line-height:16px;color:#212121;letter-spacing:0.073px;">MT</span>
<div class="r" style="left:1050.50px;top:440.70px;width:13.00px;height:13.00px;border:1.6px solid #444;border-radius:2px;"></div>
<span class="t" style="left:1107.90px;top:439.50px;font-size:12.4px;line-height:16px;color:#212121;letter-spacing:-0.293px;">Rate</span>
<span class="t" style="left:1227.82px;top:439.50px;font-size:12.4px;line-height:16px;color:#212121;letter-spacing:0.037px;">10.0000</span>
<span class="t" style="left:1285.50px;top:439.50px;font-size:12.4px;line-height:16px;color:#212121;letter-spacing:-0.880px;">USD</span>
<span class="t" style="left:1426.42px;top:439.50px;font-size:12.4px;line-height:16px;color:#777777;letter-spacing:0.011px;">1.00</span>
<div class="r" style="left:444.00px;top:477.00px;width:1036.00px;height:131.00px;background:#fff;border:1px solid #dcdcdc;border-radius:4px;box-shadow:0 1px 2px rgba(0,0,0,.18);"></div>
<span class="t" style="left:453.00px;top:490.15px;font-size:14px;line-height:18px;color:#212121;letter-spacing:0.019px;-webkit-text-stroke:0.36px #212121;">Cargo Ports</span>
<div class="r" style="left:480.00px;top:522.00px;width:4.00px;height:86.00px;background:linear-gradient(90deg,rgba(0,0,0,.10),rgba(0,0,0,0));"></div>
<span class="t" style="left:485.70px;top:531.90px;font-size:12.4px;line-height:16px;color:#2b2b2b;letter-spacing:0.241px;-webkit-text-stroke:0.32px #2b2b2b;">Port</span>
<span class="t" style="left:623.00px;top:531.90px;font-size:12.4px;line-height:16px;color:#2b2b2b;letter-spacing:-0.056px;-webkit-text-stroke:0.32px #2b2b2b;">Reason for Call</span>
<span class="t" style="left:838.67px;top:531.90px;font-size:12.4px;line-height:16px;color:#2b2b2b;letter-spacing:0.044px;-webkit-text-stroke:0.32px #2b2b2b;">Quantity</span>
<span class="t" style="left:945.40px;top:531.90px;font-size:12.4px;line-height:16px;color:#2b2b2b;letter-spacing:-0.110px;-webkit-text-stroke:0.32px #2b2b2b;">Fixed</span>
<span class="t" style="left:1092.49px;top:531.90px;font-size:12.4px;line-height:16px;color:#2b2b2b;letter-spacing:-0.094px;-webkit-text-stroke:0.32px #2b2b2b;">Freight Rate</span>
<span class="t" style="left:1251.76px;top:531.90px;font-size:12.4px;line-height:16px;color:#2b2b2b;letter-spacing:-0.330px;-webkit-text-stroke:0.32px #2b2b2b;">HC Rate</span>
<span class="t" style="left:1309.60px;top:531.90px;font-size:12.4px;line-height:16px;color:#2b2b2b;letter-spacing:-0.079px;-webkit-text-stroke:0.32px #2b2b2b;">Currency</span>
<span class="t" style="left:1447.00px;top:531.90px;font-size:12.4px;line-height:16px;color:#2b2b2b;letter-spacing:-0.330px;-webkit-text-stroke:0.32px #2b2b2b;">HC Rate</span>
<div class="r" style="left:445.00px;top:559.00px;width:1035.00px;height:1.00px;background:#d4d4d4;"></div>
<div class="r" style="left:445.00px;top:583.00px;width:1035.00px;height:1.00px;background:#d4d4d4;"></div>
<svg class="i" style="left:452.85px;top:561.15px" width="18.3" height="18.3" viewBox="0 0 24 24"><path fill="#707070" d="M19 19H5V5h7V3H5c-1.11 0-2 .9-2 2v14c0 1.1.89 2 2 2h14c1.1 0 2-.9 2-2v-7h-2v7zM14 3v2h3.59l-9.83 9.83 1.41 1.41L19 6.41V10h2V3h-7z"/></svg>
<span class="t" style="left:485.70px;top:563.50px;font-size:12.4px;line-height:16px;color:#777777;letter-spacing:-0.936px;">BERGEN</span>
<span class="t" style="left:623.00px;top:563.50px;font-size:12.4px;line-height:16px;color:#777777;letter-spacing:0.026px;">Loading</span>
<span class="t" style="left:809.58px;top:563.50px;font-size:12.4px;line-height:16px;color:#212121;letter-spacing:-0.075px;">30,000.00 MT</span>
<div class="r" style="left:953.50px;top:563.70px;width:13.00px;height:13.00px;border:1.6px solid #444;border-radius:2px;"></div>
<span class="t" style="left:1094.87px;top:563.50px;font-size:12.4px;line-height:16px;color:#777777;letter-spacing:-0.282px;">0.0000 USD</span>
<span class="t" style="left:1272.82px;top:563.50px;font-size:12.4px;line-height:16px;color:#212121;letter-spacing:0.011px;">0.00</span>
<span class="t" style="left:1309.60px;top:563.50px;font-size:12.4px;line-height:16px;color:#212121;letter-spacing:-0.880px;">USD</span>
<svg class="i" style="left:452.85px;top:585.15px" width="18.3" height="18.3" viewBox="0 0 24 24"><path fill="#707070" d="M19 19H5V5h7V3H5c-1.11 0-2 .9-2 2v14c0 1.1.89 2 2 2h14c1.1 0 2-.9 2-2v-7h-2v7zM14 3v2h3.59l-9.83 9.83 1.41 1.41L19 6.41V10h2V3h-7z"/></svg>
<span class="t" style="left:485.70px;top:587.50px;font-size:12.4px;line-height:16px;color:#777777;letter-spacing:-0.035px;">NATAL</span>
<span class="t" style="left:623.00px;top:587.50px;font-size:12.4px;line-height:16px;color:#777777;letter-spacing:0.002px;">Discharging</span>
<span class="t" style="left:809.58px;top:587.50px;font-size:12.4px;line-height:16px;color:#212121;letter-spacing:-0.075px;">30,000.00 MT</span>
<div class="r" style="left:953.50px;top:587.70px;width:13.00px;height:13.00px;border:1.6px solid #444;border-radius:2px;"></div>
<span class="t" style="left:1087.90px;top:587.50px;font-size:12.4px;line-height:16px;color:#212121;letter-spacing:-0.250px;">10.0000 USD</span>
<span class="t" style="left:1272.82px;top:587.50px;font-size:12.4px;line-height:16px;color:#212121;letter-spacing:0.011px;">0.00</span>
<span class="t" style="left:1309.60px;top:587.50px;font-size:12.4px;line-height:16px;color:#212121;letter-spacing:-0.880px;">USD</span>
<div class="r" style="left:444.00px;top:625.00px;width:1036.00px;height:155.00px;background:#fff;border:1px solid #dcdcdc;border-radius:4px;box-shadow:0 1px 2px rgba(0,0,0,.18);"></div>
<span class="t" style="left:453.00px;top:638.15px;font-size:14px;line-height:18px;color:#212121;letter-spacing:0.198px;-webkit-text-stroke:0.36px #212121;">Various</span>
<span class="t" style="left:451.10px;top:679.70px;font-size:12.4px;line-height:16px;color:#2b2b2b;letter-spacing:-0.068px;-webkit-text-stroke:0.32px #2b2b2b;">From</span>
<span class="t" style="left:623.00px;top:679.70px;font-size:12.4px;line-height:16px;color:#2b2b2b;letter-spacing:-0.044px;-webkit-text-stroke:0.32px #2b2b2b;">Type</span>
<span class="t" style="left:795.00px;top:679.70px;font-size:12.4px;line-height:16px;color:#2b2b2b;letter-spacing:0.320px;-webkit-text-stroke:0.32px #2b2b2b;">Text</span>
<span class="t" style="left:967.00px;top:679.70px;font-size:12.4px;line-height:16px;color:#2b2b2b;letter-spacing:0.128px;-webkit-text-stroke:0.32px #2b2b2b;">Description</span>
<span class="t" style="left:1273.46px;top:679.70px;font-size:12.4px;line-height:16px;color:#2b2b2b;letter-spacing:-0.238px;-webkit-text-stroke:0.32px #2b2b2b;">Rate</span>
<span class="t" style="left:1426.70px;top:679.70px;font-size:12.4px;line-height:16px;color:#2b2b2b;letter-spacing:0.167px;-webkit-text-stroke:0.32px #2b2b2b;">Amount</span>
<div class="r" style="left:445.00px;top:707.00px;width:1035.00px;height:1.00px;background:#d4d4d4;"></div>
<div class="r" style="left:445.00px;top:731.00px;width:1035.00px;height:1.00px;background:#d4d4d4;"></div>
<div class="r" style="left:445.00px;top:755.00px;width:1035.00px;height:1.00px;background:#d4d4d4;"></div>
<span class="t" style="left:451.10px;top:711.50px;font-size:12.4px;line-height:16px;color:#777777;letter-spacing:-0.167px;">Cargo</span>
<span class="t" style="left:623.00px;top:711.50px;font-size:12.4px;line-height:16px;color:#777777;letter-spacing:0.026px;">Cost</span>
<span class="t" style="left:795.00px;top:711.50px;font-size:12.4px;line-height:16px;color:#212121;letter-spacing:-0.139px;">Mabl Various Cost Lumpsu…</span>
<span class="t" style="left:1230.27px;top:711.50px;font-size:12.4px;line-height:16px;color:#212121;letter-spacing:-0.048px;">5,000.00000</span>
<span class="t" style="left:1423.00px;top:711.50px;font-size:12.4px;line-height:16px;color:#777777;letter-spacing:-0.093px;">5,000.00</span>
<span class="t" style="left:451.10px;top:735.50px;font-size:12.4px;line-height:16px;color:#777777;letter-spacing:-0.167px;">Cargo</span>
<span class="t" style="left:623.00px;top:735.50px;font-size:12.4px;line-height:16px;color:#777777;letter-spacing:-0.391px;">Revenue</span>
<span class="t" style="left:795.00px;top:735.50px;font-size:12.4px;line-height:16px;color:#212121;letter-spacing:-0.294px;">Mabl Various Revenue Per …</span>
<span class="t" style="left:1239.68px;top:735.50px;font-size:12.4px;line-height:16px;color:#212121;letter-spacing:0.045px;">150.00000</span>
<span class="t" style="left:1423.00px;top:735.50px;font-size:12.4px;line-height:16px;color:#777777;letter-spacing:-0.093px;">2,946.82</span>
<span class="t" style="left:451.10px;top:759.50px;font-size:12.4px;line-height:16px;color:#777777;letter-spacing:-0.167px;">Cargo</span>
<span class="t" style="left:623.00px;top:759.50px;font-size:12.4px;line-height:16px;color:#777777;letter-spacing:-0.391px;">Revenue</span>
<span class="t" style="left:795.00px;top:759.50px;font-size:12.4px;line-height:16px;color:#212121;letter-spacing:-0.261px;">Mabl Various Revenue Lum…</span>
<span class="t" style="left:1230.27px;top:759.50px;font-size:12.4px;line-height:16px;color:#212121;letter-spacing:-0.048px;">1,500.00000</span>
<span class="t" style="left:1423.00px;top:759.50px;font-size:12.4px;line-height:16px;color:#777777;letter-spacing:-0.093px;">1,500.00</span>
<div class="r" style="left:1461.00px;top:0.00px;width:1098.00px;height:1314.00px;background:#fff;box-shadow:0 0 12px rgba(0,0,0,.26),0 0 26px rgba(0,0,0,.08);"></div>
<div class="r" style="left:1461.00px;top:0.00px;width:1084.00px;height:91.00px;background:#f5f5f5;"></div>
<div class="r" style="left:2545.00px;top:0.00px;width:14.00px;height:1314.00px;background:#fdfdfd;"></div>
<div class="r" style="left:2548.00px;top:17.00px;width:9.00px;height:1093.00px;background:#8f8f8f;border-radius:4.5px;"></div>
<svg class="i" style="left:2547px;top:3px" width="11" height="8" viewBox="0 0 11 8"><path fill="#8a8a8a" d="M0.5 7.5L5.5 1l5 6.5z"/></svg>
<svg class="i" style="left:2547px;top:1304px" width="11" height="8" viewBox="0 0 11 8"><path fill="#8a8a8a" d="M0.5 0.5L5.5 7l5-6.5z"/></svg>
<svg class="i" style="left:1493.25px;top:19.25px" width="21.5" height="21.5" viewBox="0 0 24 24"><path fill="#555" d="M20 11H7.83l5.59-5.59L12 4l-8 8 8 8 1.41-1.41L7.83 13H20v-2z"/></svg>
<span class="t" style="left:1531.80px;top:19.69px;font-size:18.2px;line-height:24px;color:#212121;letter-spacing:-1.448px;-webkit-text-stroke:0.47px #212121;">CARGO</span>
<div class="r" style="left:1600.00px;top:20.00px;width:113.80px;height:21.00px;background:#cecece;border-radius:10.5px;"></div>
<span class="t" style="left:1608.00px;top:22.52px;font-size:11.5px;line-height:15px;color:#333;letter-spacing:0.092px;">Mabl-owc4403pnyf</span>
<div class="r" style="left:1725.80px;top:20.00px;width:55.00px;height:21.00px;background:#cecece;border-radius:10.5px;"></div>
<span class="t" style="left:1733.91px;top:22.52px;font-size:11.5px;line-height:15px;color:#333;letter-spacing:0.067px;">457988</span>
<span class="t" style="left:1793.80px;top:20.15px;font-size:14px;line-height:18px;color:#777777;letter-spacing:0.030px;">|76479851</span>
<div class="r" style="left:1868.80px;top:18.00px;width:90.00px;height:24.00px;background:#edb73c;border-radius:3px;"></div>
<span class="t" style="left:1877.00px;top:22.04px;font-size:12px;line-height:16px;color:#212121;letter-spacing:-0.163px;-webkit-text-stroke:0.31px #212121;">Clean Fix</span>
<svg class="i" style="left:1937.30px;top:22.80px" width="15" height="15" viewBox="0 0 24 24"><path fill="#212121" d="M7 10l5 5 5-5z"/></svg>
<div class="r" style="left:1962.50px;top:21.00px;width:32.50px;height:18.00px;background:#cecece;border-radius:4px;"></div>
<span class="t" style="left:1967.00px;top:22.52px;font-size:11.5px;line-height:15px;color:#333;letter-spacing:-0.013px;">Spot</span>
<svg class="i" style="left:2414.00px;top:18.80px" width="22" height="22" viewBox="0 0 24 24"><path fill="#707070" d="M20 2H8c-1.1 0-2 .9-2 2v12c0 1.1.9 2 2 2h12c1.1 0 2-.9 2-2V4c0-1.1-.9-2-2-2zm-8.5 7.5c0 .83-.67 1.5-1.5 1.5H9v2H7.5V7H10c.83 0 1.5.67 1.5 1.5v1zm5 2c0 .83-.67 1.5-1.5 1.5h-2.5V7H15c.83 0 1.5.67 1.5 1.5v3zm4-3H19v1h1.5V11H19v2h-1.5V7h3v1.5zM9 9.5h1v-1H9v1zM4 6H2v14c0 1.1.9 2 2 2h14v-2H4V6zm10 5.5h1v-3h-1v3z"/></svg>
<svg class="i" style="left:2452.00px;top:19.00px" width="22" height="22" viewBox="0 0 24 24"><path fill="#707070" d="M16 1H4c-1.1 0-2 .9-2 2v14h2V3h12V1zm-1 4l6 6v10c0 1.1-.9 2-2 2H7.99C6.89 23 6 22.1 6 21l.01-14c0-1.1.89-2 1.99-2h7zm-1 7h5.5L14 6.5V12z"/></svg>
<svg class="i" style="left:2490.90px;top:19.00px" width="22" height="22" viewBox="0 0 24 24"><path fill="#707070" d="M12 8c1.1 0 2-.9 2-2s-.9-2-2-2-2 .9-2 2 .9 2 2 2zm0 2c-1.1 0-2 .9-2 2s.9 2 2 2 2-.9 2-2-.9-2-2-2zm0 6c-1.1 0-2 .9-2 2s.9 2 2 2 2-.9 2-2-.9-2-2-2z"/></svg>
<span class="t" style="left:1542.50px;top:60.15px;font-size:14px;line-height:18px;color:#1558e8;letter-spacing:-0.002px;">Main Details</span>
<span class="t" style="left:1701.89px;top:60.15px;font-size:14px;line-height:18px;color:#555;letter-spacing:-0.142px;">Sub-cargoes</span>
<span class="t" style="left:1836.80px;top:60.15px;font-size:14px;line-height:18px;color:#555;letter-spacing:-0.032px;">Various Cost/Revenue</span>
<span class="t" style="left:2028.07px;top:60.15px;font-size:14px;line-height:18px;color:#555;letter-spacing:0.167px;">Commissions</span>
<span class="t" style="left:2176.38px;top:60.15px;font-size:14px;line-height:18px;color:#555;letter-spacing:-0.113px;">Freight Rate Tiers</span>
<span class="t" style="left:2342.27px;top:60.15px;font-size:14px;line-height:18px;color:#555;letter-spacing:0.035px;">Payment Terms</span>
<div class="r" style="left:1501.00px;top:89.00px;width:160.00px;height:2.00px;background:#0d51e7;"></div>
<svg class="i" style="left:2515.20px;top:59.90px" width="20.6" height="20.6" viewBox="0 0 24 24"><path fill="#444" d="M10 6L8.59 7.41 13.17 12l-4.58 4.59L10 18l6-6z"/></svg>
<div class="r" style="left:1477.00px;top:107.00px;width:256.50px;height:80.50px;background:#fff;border:1px solid #c6c6c6;border-radius:4px;"></div>
<span class="t" style="left:1485.80px;top:111.77px;font-size:12.2px;line-height:16px;color:#5a5a5a;letter-spacing:-0.045px;-webkit-text-stroke:0.32px #5a5a5a;">Cargo Quantity</span>
<span class="t" style="left:1656.40px;top:110.55px;font-size:14px;line-height:18px;color:#212121;letter-spacing:0.097px;font-weight:700;">30,000 MT</span>
<span class="t" style="left:1485.80px;top:131.57px;font-size:12.2px;line-height:16px;color:#686868;letter-spacing:-0.075px;">Booked</span>
<span class="t" style="left:1666.73px;top:131.57px;font-size:12.2px;line-height:16px;color:#686868;letter-spacing:-0.095px;">30,000 MT</span>
<span class="t" style="left:1485.80px;top:149.57px;font-size:12.2px;line-height:16px;color:#686868;letter-spacing:0.281px;">Minimum</span>
<span class="t" style="left:1696.56px;top:149.57px;font-size:12.2px;line-height:16px;color:#686868;letter-spacing:-0.037px;">0 MT</span>
<div class="r" style="left:1742.00px;top:107.00px;width:256.50px;height:80.50px;background:#fff;border:1px solid #c6c6c6;border-radius:4px;"></div>
<span class="t" style="left:1750.80px;top:111.77px;font-size:12.2px;line-height:16px;color:#5a5a5a;letter-spacing:-0.059px;-webkit-text-stroke:0.32px #5a5a5a;">Gross Freight</span>
<span class="t" style="left:1907.17px;top:110.55px;font-size:14px;line-height:18px;color:#212121;letter-spacing:-0.184px;font-weight:700;">300,000 USD</span>
<span class="t" style="left:1750.80px;top:131.57px;font-size:12.2px;line-height:16px;color:#686868;letter-spacing:-0.154px;">Various Revenue</span>
<span class="t" style="left:1933.18px;top:131.57px;font-size:12.2px;line-height:16px;color:#686868;letter-spacing:-0.407px;">4,447 USD</span>
<span class="t" style="left:1750.80px;top:149.57px;font-size:12.2px;line-height:16px;color:#686868;letter-spacing:0.016px;">Deadfreight</span>
<span class="t" style="left:1956.16px;top:149.57px;font-size:12.2px;line-height:16px;color:#686868;letter-spacing:-0.578px;">0 USD</span>
<span class="t" style="left:1750.80px;top:167.57px;font-size:12.2px;line-height:16px;color:#686868;letter-spacing:0.060px;">Bunker Adjustment</span>
<span class="t" style="left:1956.16px;top:167.57px;font-size:12.2px;line-height:16px;color:#686868;letter-spacing:-0.578px;">0 USD</span>
<div class="r" style="left:2007.00px;top:107.00px;width:256.50px;height:80.50px;background:#fff;border:1px solid #c6c6c6;border-radius:4px;"></div>
<span class="t" style="left:2015.80px;top:111.77px;font-size:12.2px;line-height:16px;color:#5a5a5a;letter-spacing:0.162px;-webkit-text-stroke:0.32px #5a5a5a;">Commission</span>
<span class="t" style="left:2215.75px;top:110.55px;font-size:14px;line-height:18px;color:#212121;letter-spacing:-0.558px;font-weight:700;">0 USD</span>
<span class="t" style="left:2015.80px;top:131.57px;font-size:12.2px;line-height:16px;color:#686868;letter-spacing:0.005px;">Handling Cost</span>
<span class="t" style="left:2221.16px;top:131.57px;font-size:12.2px;line-height:16px;color:#686868;letter-spacing:-0.578px;">0 USD</span>
<span class="t" style="left:2015.80px;top:149.57px;font-size:12.2px;line-height:16px;color:#686868;letter-spacing:0.041px;">Various Cost</span>
<span class="t" style="left:2198.18px;top:149.57px;font-size:12.2px;line-height:16px;color:#686868;letter-spacing:-0.407px;">5,000 USD</span>
<div class="r" style="left:2272.00px;top:107.00px;width:256.50px;height:80.50px;background:#fff;border:1px solid #c6c6c6;border-radius:4px;"></div>
<span class="t" style="left:2280.80px;top:111.77px;font-size:12.2px;line-height:16px;color:#5a5a5a;letter-spacing:-0.033px;-webkit-text-stroke:0.32px #5a5a5a;">Net Fio</span>
<span class="t" style="left:2460.61px;top:110.55px;font-size:14px;line-height:18px;color:#212121;letter-spacing:-0.264px;font-weight:700;">9.98 USD</span>
<span class="t" style="left:2280.80px;top:131.57px;font-size:12.2px;line-height:16px;color:#686868;letter-spacing:-0.894px;">EEOI</span>
<span class="t" style="left:2433.97px;top:131.57px;font-size:12.2px;line-height:16px;color:#686868;letter-spacing:0.037px;">4.55 gCO2/tNM</span>
<span class="t" style="left:2280.80px;top:149.57px;font-size:12.2px;line-height:16px;color:#686868;letter-spacing:-0.452px;">EU ETS Cost</span>
<span class="t" style="left:2469.23px;top:149.57px;font-size:12.2px;line-height:16px;color:#686868;letter-spacing:-0.365px;">0.00 USD</span>
<div class="r" style="left:1988.00px;top:194.00px;width:29.00px;height:3.00px;background:#cfcfcf;border-radius:2px;"></div>
<div class="r" style="left:1477.00px;top:204.00px;width:518.00px;height:809.50px;background:#f3f6fd;border-radius:6px;"></div>
<span class="t" style="left:1493.00px;top:218.18px;font-size:16.8px;line-height:22px;color:#212121;letter-spacing:-0.048px;-webkit-text-stroke:0.44px #212121;">Main Cargo Details</span>
<svg class="i" style="left:1966.00px;top:218.50px" width="20" height="20" viewBox="0 0 24 24"><path fill="#555" d="M12 8l-6 6 1.41 1.41L12 10.83l4.59 4.58L18 14z"/></svg>
<span class="t" style="left:1493.00px;top:269.82px;font-size:11.2px;line-height:15px;color:#3a3a3a;letter-spacing:0.037px;">Counterpart</span>
<svg class="i" style="left:1556.10px;top:268.50px" width="17" height="17" viewBox="0 0 24 24"><path fill="#555" d="M19 19H5V5h7V3H5c-1.11 0-2 .9-2 2v14c0 1.1.89 2 2 2h14c1.1 0 2-.9 2-2v-7h-2v7zM14 3v2h3.59l-9.83 9.83 1.41 1.41L19 6.41V10h2V3h-7z"/></svg>
<div class="r" style="left:1493.00px;top:286.00px;width:486.00px;height:32.00px;background:#fafafa;border:1px solid #b8b8b8;border-radius:4.5px;"></div>
<span class="t" style="left:1500.30px;top:291.95px;font-size:14px;line-height:18px;color:#212121;letter-spacing:-0.019px;">Mabl Charterer, Charterer, 105, Mable town</span>
<svg class="i" style="left:1956.00px;top:291.80px" width="20" height="20" viewBox="0 0 24 24"><path fill="#6b6b6b" d="M7 10l5 5 5-5z"/></svg>
<span class="t" style="left:1493.00px;top:327.02px;font-size:11.2px;line-height:15px;color:#3a3a3a;letter-spacing:-0.278px;">CP Date</span>
<div class="r" style="left:1493.00px;top:344.00px;width:151.00px;height:32.00px;background:#fafafa;border:1px solid #b8b8b8;border-radius:4.5px;"></div>
<span class="t" style="left:1500.30px;top:349.95px;font-size:14px;line-height:18px;color:#bdbdbd;letter-spacing:0.298px;">DD/MM/YY</span>
<svg class="i" style="left:1619.20px;top:349.20px" width="21.6" height="21.6" viewBox="0 0 24 24"><path fill="#6b6b6b" d="M17 12h-5v5h5v-5zM16 1v2H8V1H6v2H5c-1.11 0-1.99.9-1.99 2L3 19c0 1.1.89 2 2 2h14c1.1 0 2-.9 2-2V5c0-1.1-.9-2-2-2h-1V1h-2zm3 18H5V8h14v11z"/></svg>
<span class="t" style="left:1660.00px;top:327.02px;font-size:11.2px;line-height:15px;color:#3a3a3a;letter-spacing:-0.143px;">Planned BL Date</span>
<div class="r" style="left:1660.00px;top:344.00px;width:152.00px;height:32.00px;background:#fafafa;border:1px solid #b8b8b8;border-radius:4.5px;"></div>
<span class="t" style="left:1667.30px;top:349.95px;font-size:14px;line-height:18px;color:#bdbdbd;letter-spacing:0.298px;">DD/MM/YY</span>
<svg class="i" style="left:1787.20px;top:349.20px" width="21.6" height="21.6" viewBox="0 0 24 24"><path fill="#6b6b6b" d="M17 12h-5v5h5v-5zM16 1v2H8V1H6v2H5c-1.11 0-1.99.9-1.99 2L3 19c0 1.1.89 2 2 2h14c1.1 0 2-.9 2-2V5c0-1.1-.9-2-2-2h-1V1h-2zm3 18H5V8h14v11z"/></svg>
<span class="t" style="left:1828.00px;top:327.02px;font-size:11.2px;line-height:15px;color:#3a3a3a;letter-spacing:-0.061px;">Actual BL Date</span>
<div class="r" style="left:1828.00px;top:344.00px;width:151.00px;height:32.00px;background:#fafafa;border:1px solid #b8b8b8;border-radius:4.5px;"></div>
<span class="t" style="left:1835.30px;top:349.95px;font-size:14px;line-height:18px;color:#bdbdbd;letter-spacing:0.298px;">DD/MM/YY</span>
<svg class="i" style="left:1954.20px;top:349.20px" width="21.6" height="21.6" viewBox="0 0 24 24"><path fill="#6b6b6b" d="M17 12h-5v5h5v-5zM16 1v2H8V1H6v2H5c-1.11 0-1.99.9-1.99 2L3 19c0 1.1.89 2 2 2h14c1.1 0 2-.9 2-2V5c0-1.1-.9-2-2-2h-1V1h-2zm3 18H5V8h14v11z"/></svg>
<span class="t" style="left:1493.00px;top:385.02px;font-size:11.2px;line-height:15px;color:#3a3a3a;letter-spacing:0.058px;">B/L Quantity</span>
<div class="r" style="left:1493.00px;top:402.00px;width:151.00px;height:32.00px;background:#fafafa;border:1px solid #b8b8b8;border-radius:4.5px;"></div>
<span class="t" style="left:1566.61px;top:407.95px;font-size:14px;line-height:18px;color:#212121;letter-spacing:-0.068px;">30,000.000</span>
<span class="t" style="left:1660.00px;top:385.02px;font-size:11.2px;line-height:15px;color:#3a3a3a;letter-spacing:0.048px;">Measurement</span>
<div class="r" style="left:1660.00px;top:402.00px;width:152.00px;height:32.00px;background:#fafafa;border:1px solid #b8b8b8;border-radius:4.5px;"></div>
<span class="t" style="left:1667.30px;top:407.95px;font-size:14px;line-height:18px;color:#212121;letter-spacing:0.235px;">MT</span>
<svg class="i" style="left:1789.00px;top:407.80px" width="20" height="20" viewBox="0 0 24 24"><path fill="#6b6b6b" d="M7 10l5 5 5-5z"/></svg>
<div class="r" style="left:1829.00px;top:409.00px;width:16.00px;height:16.00px;border:2px solid #555;border-radius:2px;"></div>
<span class="t" style="left:1857.00px;top:397.45px;font-size:14px;line-height:18px;color:#212121;letter-spacing:-0.179px;">Use Max</span>
<span class="t" style="left:1857.00px;top:418.45px;font-size:14px;line-height:18px;color:#212121;letter-spacing:-0.003px;">Intake</span>
<svg class="i" style="left:1943.80px;top:409.40px" width="16" height="16" viewBox="0 0 24 24"><path fill="#616161" d="M11 17h2v-6h-2v6zm1-15C6.48 2 2 6.48 2 12s4.48 10 10 10 10-4.48 10-10S17.52 2 12 2zm0 18c-4.41 0-8-3.59-8-8s3.59-8 8-8 8 3.59 8 8-3.59 8-8 8zM11 9h2V7h-2v2z"/></svg>
<span class="t" style="left:1493.00px;top:443.82px;font-size:11.2px;line-height:15px;color:#3a3a3a;letter-spacing:0.120px;">Commodity</span>
<svg class="i" style="left:1553.80px;top:442.50px" width="17" height="17" viewBox="0 0 24 24"><path fill="#555" d="M19 19H5V5h7V3H5c-1.11 0-2 .9-2 2v14c0 1.1.89 2 2 2h14c1.1 0 2-.9 2-2v-7h-2v7zM14 3v2h3.59l-9.83 9.83 1.41 1.41L19 6.41V10h2V3h-7z"/></svg>
<div class="r" style="left:1493.00px;top:460.00px;width:486.00px;height:32.00px;background:#fafafa;border:1px solid #b8b8b8;border-radius:4.5px;"></div>
<span class="t" style="left:1500.30px;top:465.95px;font-size:14px;line-height:18px;color:#212121;letter-spacing:0.235px;">Mabl Commodity</span>
<svg class="i" style="left:1956.00px;top:465.80px" width="20" height="20" viewBox="0 0 24 24"><path fill="#6b6b6b" d="M7 10l5 5 5-5z"/></svg>
<span class="t" style="left:1493.00px;top:501.02px;font-size:11.2px;line-height:15px;color:#3a3a3a;letter-spacing:-0.144px;">Freight Rate</span>
<div class="r" style="left:1493.00px;top:518.00px;width:110.00px;height:32.00px;background:#fafafa;border:1px solid #b8b8b8;border-radius:4.5px;"></div>
<span class="t" style="left:1544.10px;top:523.95px;font-size:14px;line-height:18px;color:#212121;letter-spacing:0.042px;">10.0000</span>
<span class="t" style="left:1619.00px;top:501.02px;font-size:11.2px;line-height:15px;color:#3a3a3a;letter-spacing:-0.150px;">Currency</span>
<div class="r" style="left:1619.00px;top:518.00px;width:109.00px;height:32.00px;background:#fafafa;border:1px solid #b8b8b8;border-radius:4.5px;"></div>
<span class="t" style="left:1626.30px;top:523.95px;font-size:14px;line-height:18px;color:#212121;letter-spacing:-0.861px;">USD</span>
<svg class="i" style="left:1705.00px;top:523.80px" width="20" height="20" viewBox="0 0 24 24"><path fill="#6b6b6b" d="M7 10l5 5 5-5z"/></svg>
<span class="t" style="left:1744.00px;top:501.02px;font-size:11.2px;line-height:15px;color:#3a3a3a;letter-spacing:-0.194px;">Rule *</span>
<div class="r" style="left:1744.00px;top:518.00px;width:110.00px;height:32.00px;background:#fafafa;border:1px solid #b8b8b8;border-radius:4.5px;"></div>
<span class="t" style="left:1751.30px;top:523.95px;font-size:14px;line-height:18px;color:#212121;letter-spacing:-0.225px;">Rate</span>
<svg class="i" style="left:1831.00px;top:523.80px" width="20" height="20" viewBox="0 0 24 24"><path fill="#6b6b6b" d="M7 10l5 5 5-5z"/></svg>
<span class="t" style="left:1870.00px;top:501.02px;font-size:11.2px;line-height:15px;color:#808080;letter-spacing:-0.155px;">Flat Rate</span>
<div class="r" style="left:1870.00px;top:518.00px;width:109.00px;height:32.00px;background:#e9ecf5;border:1px solid #cfcfcf;border-radius:4.5px;"></div>
<span class="t" style="left:1943.70px;top:523.95px;font-size:14px;line-height:18px;color:#8c8c8c;letter-spacing:0.012px;">0.00</span>
<span class="t" style="left:1493.00px;top:559.02px;font-size:11.2px;line-height:15px;color:#3a3a3a;letter-spacing:0.019px;">Broker Commission</span>
<div class="r" style="left:1493.00px;top:576.00px;width:235.00px;height:32.00px;background:#fafafa;border:1px solid #b8b8b8;border-radius:4.5px;"></div>
<span class="t" style="left:1710.25px;top:583.05px;font-size:14px;line-height:18px;color:#6a6a6a;letter-spacing:-1.500px;">%</span>
<span class="t" style="left:1678.98px;top:581.95px;font-size:14px;line-height:18px;color:#212121;letter-spacing:0.012px;">0.00</span>
<span class="t" style="left:1744.00px;top:559.02px;font-size:11.2px;line-height:15px;color:#3a3a3a;letter-spacing:0.055px;">Address Commission</span>
<div class="r" style="left:1744.00px;top:576.00px;width:235.00px;height:32.00px;background:#fafafa;border:1px solid #b8b8b8;border-radius:4.5px;"></div>
<span class="t" style="left:1961.25px;top:583.05px;font-size:14px;line-height:18px;color:#6a6a6a;letter-spacing:-1.500px;">%</span>
<span class="t" style="left:1929.98px;top:581.95px;font-size:14px;line-height:18px;color:#212121;letter-spacing:0.012px;">0.00</span>
<span class="t" style="left:1493.00px;top:617.02px;font-size:11.2px;line-height:15px;color:#3a3a3a;letter-spacing:-0.006px;">Tolerance Option</span>
<div class="r" style="left:1493.00px;top:634.00px;width:110.00px;height:32.00px;background:#fafafa;border:1px solid #b8b8b8;border-radius:4.5px;"></div>
<span class="t" style="left:1500.30px;top:639.95px;font-size:14px;line-height:18px;color:#bdbdbd;letter-spacing:-0.408px;">Type to s…</span>
<svg class="i" style="left:1580.00px;top:639.80px" width="20" height="20" viewBox="0 0 24 24"><path fill="#6b6b6b" d="M7 10l5 5 5-5z"/></svg>
<span class="t" style="left:1619.00px;top:617.02px;font-size:11.2px;line-height:15px;color:#808080;letter-spacing:0.032px;">Tolerance</span>
<div class="r" style="left:1619.00px;top:634.00px;width:109.00px;height:32.00px;background:#e9ecf5;border:1px solid #cfcfcf;border-radius:4.5px;"></div>
<span class="t" style="left:1710.25px;top:641.05px;font-size:14px;line-height:18px;color:#9a9a9a;letter-spacing:-1.500px;">%</span>
<span class="t" style="left:1690.54px;top:639.95px;font-size:14px;line-height:18px;color:#8c8c8c;letter-spacing:0.082px;">15</span>
<span class="t" style="left:1744.00px;top:617.02px;font-size:11.2px;line-height:15px;color:#3a3a3a;letter-spacing:-0.288px;">Overage Rate</span>
<div class="r" style="left:1744.00px;top:634.00px;width:110.00px;height:32.00px;background:#fafafa;border:1px solid #b8b8b8;border-radius:4.5px;"></div>
<span class="t" style="left:1836.25px;top:641.05px;font-size:14px;line-height:18px;color:#6a6a6a;letter-spacing:-1.500px;">%</span>
<span class="t" style="left:1816.54px;top:639.95px;font-size:14px;line-height:18px;color:#212121;letter-spacing:0.082px;">50</span>
<span class="t" style="left:1870.00px;top:617.02px;font-size:11.2px;line-height:15px;color:#3a3a3a;letter-spacing:-0.077px;">Deadfreight Rate</span>
<div class="r" style="left:1870.00px;top:634.00px;width:109.00px;height:32.00px;background:#fafafa;border:1px solid #b8b8b8;border-radius:4.5px;"></div>
<span class="t" style="left:1920.10px;top:639.95px;font-size:14px;line-height:18px;color:#212121;letter-spacing:0.042px;">10.0000</span>
<span class="t" style="left:1493.00px;top:675.02px;font-size:11.2px;line-height:15px;color:#808080;letter-spacing:0.079px;">Minimum Quantity</span>
<div class="r" style="left:1493.00px;top:692.00px;width:151.00px;height:32.00px;background:#e9ecf5;border:1px solid #cfcfcf;border-radius:4.5px;"></div>
<span class="t" style="left:1616.12px;top:699.05px;font-size:14px;line-height:18px;color:#9a9a9a;letter-spacing:0.082px;">MT</span>
<span class="t" style="left:1576.98px;top:697.95px;font-size:14px;line-height:18px;color:#8c8c8c;letter-spacing:0.026px;">0.000</span>
<span class="t" style="left:1660.00px;top:675.02px;font-size:11.2px;line-height:15px;color:#3a3a3a;letter-spacing:-0.012px;">Overlift Quantity</span>
<div class="r" style="left:1660.00px;top:692.00px;width:152.00px;height:32.00px;background:#fafafa;border:1px solid #b8b8b8;border-radius:4.5px;"></div>
<span class="t" style="left:1768.83px;top:697.95px;font-size:14px;line-height:18px;color:#212121;letter-spacing:0.026px;">0.000</span>
<div class="r" style="left:1829.00px;top:699.00px;width:16.00px;height:16.00px;border:2px solid #555;border-radius:2px;"></div>
<span class="t" style="left:1857.00px;top:687.45px;font-size:14px;line-height:18px;color:#212121;letter-spacing:-0.231px;">Owner&#x27;s</span>
<span class="t" style="left:1857.00px;top:708.45px;font-size:14px;line-height:18px;color:#212121;letter-spacing:0.174px;">Account</span>
<svg class="i" style="left:1943.80px;top:699.40px" width="16" height="16" viewBox="0 0 24 24"><path fill="#616161" d="M11 17h2v-6h-2v6zm1-15C6.48 2 2 6.48 2 12s4.48 10 10 10 10-4.48 10-10S17.52 2 12 2zm0 18c-4.41 0-8-3.59-8-8s3.59-8 8-8 8 3.59 8 8-3.59 8-8 8zM11 9h2V7h-2v2z"/></svg>
<span class="t" style="left:1493.00px;top:733.02px;font-size:11.2px;line-height:15px;color:#3a3a3a;letter-spacing:-0.165px;">Load Rate</span>
<div class="r" style="left:1493.00px;top:750.00px;width:110.00px;height:32.00px;background:#fafafa;border:1px solid #b8b8b8;border-radius:4.5px;"></div>
<span class="t" style="left:1567.70px;top:755.95px;font-size:14px;line-height:18px;color:#212121;letter-spacing:0.012px;">0.00</span>
<span class="t" style="left:1619.00px;top:733.02px;font-size:11.2px;line-height:15px;color:#3a3a3a;letter-spacing:-0.324px;">Rule</span>
<div class="r" style="left:1619.00px;top:750.00px;width:109.00px;height:32.00px;background:#fafafa;border:1px solid #b8b8b8;border-radius:4.5px;"></div>
<span class="t" style="left:1626.30px;top:755.95px;font-size:14px;line-height:18px;color:#212121;letter-spacing:0.441px;">/day</span>
<svg class="i" style="left:1705.00px;top:755.80px" width="20" height="20" viewBox="0 0 24 24"><path fill="#6b6b6b" d="M7 10l5 5 5-5z"/></svg>
<span class="t" style="left:1744.00px;top:733.02px;font-size:11.2px;line-height:15px;color:#3a3a3a;letter-spacing:0.027px;">Load Laytime Terms</span>
<div class="r" style="left:1744.00px;top:750.00px;width:235.00px;height:32.00px;background:#fafafa;border:1px solid #b8b8b8;border-radius:4.5px;"></div>
<span class="t" style="left:1751.30px;top:755.95px;font-size:14px;line-height:18px;color:#bdbdbd;letter-spacing:0.031px;">Type to search.</span>
<svg class="i" style="left:1956.00px;top:755.80px" width="20" height="20" viewBox="0 0 24 24"><path fill="#6b6b6b" d="M7 10l5 5 5-5z"/></svg>
<span class="t" style="left:1493.00px;top:791.02px;font-size:11.2px;line-height:15px;color:#3a3a3a;letter-spacing:-0.137px;">Discharge Rate</span>
<div class="r" style="left:1493.00px;top:808.00px;width:110.00px;height:32.00px;background:#fafafa;border:1px solid #b8b8b8;border-radius:4.5px;"></div>
<span class="t" style="left:1567.70px;top:813.95px;font-size:14px;line-height:18px;color:#212121;letter-spacing:0.012px;">0.00</span>
<span class="t" style="left:1619.00px;top:791.02px;font-size:11.2px;line-height:15px;color:#3a3a3a;letter-spacing:-0.324px;">Rule</span>
<div class="r" style="left:1619.00px;top:808.00px;width:109.00px;height:32.00px;background:#fafafa;border:1px solid #b8b8b8;border-radius:4.5px;"></div>
<span class="t" style="left:1626.30px;top:813.95px;font-size:14px;line-height:18px;color:#212121;letter-spacing:0.441px;">/day</span>
<svg class="i" style="left:1705.00px;top:813.80px" width="20" height="20" viewBox="0 0 24 24"><path fill="#6b6b6b" d="M7 10l5 5 5-5z"/></svg>
<span class="t" style="left:1744.00px;top:791.02px;font-size:11.2px;line-height:15px;color:#3a3a3a;letter-spacing:0.002px;">Discharge Laytime Terms</span>
<div class="r" style="left:1744.00px;top:808.00px;width:235.00px;height:32.00px;background:#fafafa;border:1px solid #b8b8b8;border-radius:4.5px;"></div>
<span class="t" style="left:1751.30px;top:813.95px;font-size:14px;line-height:18px;color:#bdbdbd;letter-spacing:0.031px;">Type to search.</span>
<svg class="i" style="left:1956.00px;top:813.80px" width="20" height="20" viewBox="0 0 24 24"><path fill="#6b6b6b" d="M7 10l5 5 5-5z"/></svg>
<span class="t" style="left:1493.00px;top:849.02px;font-size:11.2px;line-height:15px;color:#3a3a3a;letter-spacing:-0.174px;">Demurrage Rate</span>
<div class="r" style="left:1493.00px;top:866.00px;width:235.00px;height:32.00px;background:#fafafa;border:1px solid #b8b8b8;border-radius:4.5px;"></div>
<span class="t" style="left:1692.70px;top:871.95px;font-size:14px;line-height:18px;color:#212121;letter-spacing:0.012px;">0.00</span>
<span class="t" style="left:1744.00px;top:849.02px;font-size:11.2px;line-height:15px;color:#3a3a3a;letter-spacing:-0.120px;">Despatch Rate</span>
<div class="r" style="left:1744.00px;top:866.00px;width:235.00px;height:32.00px;background:#fafafa;border:1px solid #b8b8b8;border-radius:4.5px;"></div>
<span class="t" style="left:1943.70px;top:871.95px;font-size:14px;line-height:18px;color:#212121;letter-spacing:0.012px;">0.00</span>
<div class="r" style="left:1494.00px;top:930.00px;width:16.00px;height:16.00px;border:2px solid #555;border-radius:2px;"></div>
<span class="t" style="left:1523.00px;top:929.15px;font-size:14px;line-height:18px;color:#212121;letter-spacing:-0.115px;">Reversible Laytime</span>
<div class="r" style="left:1745.00px;top:930.00px;width:16.00px;height:16.00px;border:2px solid #555;border-radius:2px;"></div>
<span class="t" style="left:1774.00px;top:929.15px;font-size:14px;line-height:18px;color:#212121;letter-spacing:-0.031px;">Performance Cargo</span>
<div class="r" style="left:1494.00px;top:980.00px;width:16.00px;height:16.00px;border:2px solid #555;border-radius:2px;"></div>
<span class="t" style="left:1523.00px;top:979.15px;font-size:14px;line-height:18px;color:#212121;letter-spacing:-0.677px;">LOI</span>
<div class="r" style="left:1745.00px;top:980.00px;width:16.00px;height:16.00px;border:2px solid #555;border-radius:2px;"></div>
<span class="t" style="left:1774.00px;top:979.15px;font-size:14px;line-height:18px;color:#212121;letter-spacing:-0.103px;">Off-Spec</span>
<div class="r" style="left:1477.00px;top:1030.00px;width:518.00px;height:300.00px;background:#f3f6fd;border-radius:6px;"></div>
<span class="t" style="left:1493.00px;top:1043.48px;font-size:16.8px;line-height:22px;color:#212121;letter-spacing:-0.028px;-webkit-text-stroke:0.44px #212121;">Stowage</span>
<svg class="i" style="left:1966.00px;top:1044.00px" width="20" height="20" viewBox="0 0 24 24"><path fill="#555" d="M12 8l-6 6 1.41 1.41L12 10.83l4.59 4.58L18 14z"/></svg>
<div class="r" style="left:1494.00px;top:1118.00px;width:16.00px;height:16.00px;border:2px solid #555;border-radius:2px;"></div>
<span class="t" style="left:1523.00px;top:1117.15px;font-size:14px;line-height:18px;color:#212121;letter-spacing:-0.219px;">On Deck Option</span>
<div class="r" style="left:1661.00px;top:1118.00px;width:16.00px;height:16.00px;border:2px solid #555;border-radius:2px;"></div>
<span class="t" style="left:1690.00px;top:1117.15px;font-size:14px;line-height:18px;color:#212121;letter-spacing:-0.223px;">Stowed On Deck</span>
<div class="r" style="left:1829.00px;top:1118.00px;width:16.00px;height:16.00px;border:2px solid #555;border-radius:2px;"></div>
<span class="t" style="left:1858.00px;top:1117.15px;font-size:14px;line-height:18px;color:#212121;letter-spacing:-0.232px;">Cradle Required</span>
<span class="t" style="left:1493.00px;top:1145.02px;font-size:11.2px;line-height:15px;color:#3a3a3a;letter-spacing:-0.045px;">Stowage Factor</span>
<div class="r" style="left:1493.00px;top:1162.00px;width:235.00px;height:32.00px;background:#fafafa;border:1px solid #b8b8b8;border-radius:4.5px;"></div>
<span class="t" style="left:1664.29px;top:1169.05px;font-size:14px;line-height:18px;color:#6a6a6a;letter-spacing:0.166px;">CBM/MT</span>
<span class="t" style="left:1625.15px;top:1167.95px;font-size:14px;line-height:18px;color:#212121;letter-spacing:0.026px;">0.500</span>
<span class="t" style="left:1744.00px;top:1145.02px;font-size:11.2px;line-height:15px;color:#3a3a3a;letter-spacing:0.095px;">Volume</span>
<div class="r" style="left:1744.00px;top:1162.00px;width:235.00px;height:32.00px;background:#fafafa;border:1px solid #b8b8b8;border-radius:4.5px;"></div>
<span class="t" style="left:1941.44px;top:1169.05px;font-size:14px;line-height:18px;color:#6a6a6a;letter-spacing:-0.351px;">CBM</span>
<span class="t" style="left:1868.08px;top:1167.95px;font-size:14px;line-height:18px;color:#212121;letter-spacing:-0.068px;">15,000.000</span>
<span class="t" style="left:1493.00px;top:1203.02px;font-size:11.2px;line-height:15px;color:#3a3a3a;letter-spacing:-0.037px;">Weight Factor</span>
<div class="r" style="left:1493.00px;top:1220.00px;width:235.00px;height:32.00px;background:#fafafa;border:1px solid #b8b8b8;border-radius:4.5px;"></div>
<span class="t" style="left:1673.97px;top:1227.05px;font-size:14px;line-height:18px;color:#6a6a6a;letter-spacing:0.443px;">MT/MT</span>
<span class="t" style="left:1619.09px;top:1225.95px;font-size:14px;line-height:18px;color:#212121;letter-spacing:0.042px;">1.00000</span>
<span class="t" style="left:1744.00px;top:1203.02px;font-size:11.2px;line-height:15px;color:#3a3a3a;letter-spacing:-0.087px;">Gross Weight</span>
<div class="r" style="left:1744.00px;top:1220.00px;width:235.00px;height:32.00px;background:#fafafa;border:1px solid #b8b8b8;border-radius:4.5px;"></div>
<span class="t" style="left:1951.12px;top:1227.05px;font-size:14px;line-height:18px;color:#6a6a6a;letter-spacing:0.082px;">MT</span>
<span class="t" style="left:1877.75px;top:1225.95px;font-size:14px;line-height:18px;color:#212121;letter-spacing:-0.068px;">30,000.000</span>
<span class="t" style="left:1493.00px;top:1261.02px;font-size:11.2px;line-height:15px;color:#3a3a3a;letter-spacing:0.004px;">Length</span>
<div class="r" style="left:1493.00px;top:1278.00px;width:110.00px;height:32.00px;background:#fafafa;border:1px solid #b8b8b8;border-radius:4.5px;"></div>
<span class="t" style="left:1567.70px;top:1283.95px;font-size:14px;line-height:18px;color:#212121;letter-spacing:0.012px;">0.00</span>
<span class="t" style="left:1619.00px;top:1261.02px;font-size:11.2px;line-height:15px;color:#3a3a3a;letter-spacing:0.036px;">Width</span>
<div class="r" style="left:1619.00px;top:1278.00px;width:109.00px;height:32.00px;background:#fafafa;border:1px solid #b8b8b8;border-radius:4.5px;"></div>
<span class="t" style="left:1692.70px;top:1283.95px;font-size:14px;line-height:18px;color:#212121;letter-spacing:0.012px;">0.00</span>
<span class="t" style="left:1744.00px;top:1261.02px;font-size:11.2px;line-height:15px;color:#3a3a3a;letter-spacing:0.067px;">Height</span>
<div class="r" style="left:1744.00px;top:1278.00px;width:110.00px;height:32.00px;background:#fafafa;border:1px solid #b8b8b8;border-radius:4.5px;"></div>
<span class="t" style="left:1818.70px;top:1283.95px;font-size:14px;line-height:18px;color:#212121;letter-spacing:0.012px;">0.00</span>
<span class="t" style="left:1870.00px;top:1261.02px;font-size:11.2px;line-height:15px;color:#808080;letter-spacing:-0.157px;">Area</span>
<div class="r" style="left:1870.00px;top:1278.00px;width:109.00px;height:32.00px;background:#e9ecf5;border:1px solid #cfcfcf;border-radius:4.5px;"></div>
<span class="t" style="left:1941.33px;top:1285.05px;font-size:14px;line-height:18px;color:#9a9a9a;letter-spacing:-0.575px;">SQM</span>
<span class="t" style="left:1910.06px;top:1283.95px;font-size:14px;line-height:18px;color:#8c8c8c;letter-spacing:0.012px;">0.00</span>
<div class="r" style="left:2011.00px;top:204.00px;width:517.50px;height:472.00px;background:#f3f6fd;border-radius:6px;"></div>
<span class="t" style="left:2027.00px;top:218.18px;font-size:16.8px;line-height:22px;color:#212121;letter-spacing:0.081px;-webkit-text-stroke:0.44px #212121;">Cargo Port Timeline</span>
<svg class="i" style="left:2500.00px;top:218.50px" width="20" height="20" viewBox="0 0 24 24"><path fill="#555" d="M12 8l-6 6 1.41 1.41L12 10.83l4.59 4.58L18 14z"/></svg>
<svg class="i" style="left:2484.00px;top:277.30px" width="19" height="19" viewBox="0 0 24 24"><path fill="#1d5cf0" d="M19 13h-6v6h-2v-6H5v-2h6V5h2v6h6v2z"/></svg>
<div class="r" style="left:2269.80px;top:311.00px;width:1.00px;height:78.00px;background:#bdbdbd;"></div>
<div class="r" style="left:2264.80px;top:305.90px;width:11.00px;height:11.00px;background:#bdbdbd;border-radius:5.5px;"></div>
<div class="r" style="left:2264.80px;top:373.90px;width:11.00px;height:11.00px;background:#bdbdbd;border-radius:5.5px;"></div>
<span class="t" style="left:2096.69px;top:310.57px;font-size:12.2px;line-height:16px;color:#212121;letter-spacing:0.077px;-webkit-text-stroke:0.32px #212121;">01/02, 12:00 - 01/02, 12:00</span>
<span class="t" style="left:2127.98px;top:329.49px;font-size:12.45px;line-height:16px;color:#686868;letter-spacing:-0.120px;">Laytime Used: 0 days</span>
<span class="t" style="left:2294.50px;top:311.57px;font-size:12.2px;line-height:16px;color:#212121;letter-spacing:-0.905px;-webkit-text-stroke:0.32px #212121;">BERGEN</span>
<span class="t" style="left:2294.50px;top:330.57px;font-size:12.2px;line-height:16px;color:#686868;letter-spacing:0.026px;">Loading</span>
<span class="t" style="left:2450.83px;top:330.57px;font-size:12.2px;line-height:16px;color:#686868;letter-spacing:-0.095px;">30,000 MT</span>
<span class="t" style="left:2096.69px;top:378.57px;font-size:12.2px;line-height:16px;color:#212121;letter-spacing:0.077px;-webkit-text-stroke:0.32px #212121;">20/02, 23:30 - 20/02, 23:30</span>
<span class="t" style="left:2127.98px;top:397.49px;font-size:12.45px;line-height:16px;color:#686868;letter-spacing:-0.120px;">Laytime Used: 0 days</span>
<span class="t" style="left:2294.50px;top:379.57px;font-size:12.2px;line-height:16px;color:#212121;letter-spacing:0.018px;-webkit-text-stroke:0.32px #212121;">NATAL</span>
<span class="t" style="left:2294.50px;top:398.57px;font-size:12.2px;line-height:16px;color:#686868;letter-spacing:0.002px;">Discharging</span>
<span class="t" style="left:2450.83px;top:398.57px;font-size:12.2px;line-height:16px;color:#686868;letter-spacing:-0.095px;">30,000 MT</span>
<span class="t" style="left:2027.00px;top:437.02px;font-size:11.2px;line-height:15px;color:#3a3a3a;letter-spacing:-0.087px;">Laydays Commence</span>
<div class="r" style="left:2027.00px;top:454.00px;width:197.00px;height:32.00px;background:#fafafa;border:1px solid #b8b8b8;border-radius:4.5px;"></div>
<span class="t" style="left:2034.30px;top:459.95px;font-size:14px;line-height:18px;color:#bdbdbd;letter-spacing:0.250px;">DD/MM/YY hh:mm</span>
<svg class="i" style="left:2199.20px;top:459.20px" width="21.6" height="21.6" viewBox="0 0 24 24"><path fill="#6b6b6b" d="M17 12h-5v5h5v-5zM16 1v2H8V1H6v2H5c-1.11 0-1.99.9-1.99 2L3 19c0 1.1.89 2 2 2h14c1.1 0 2-.9 2-2V5c0-1.1-.9-2-2-2h-1V1h-2zm3 18H5V8h14v11z"/></svg>
<span class="t" style="left:2278.00px;top:437.02px;font-size:11.2px;line-height:15px;color:#3a3a3a;letter-spacing:-0.092px;">Laydays Cancelling</span>
<div class="r" style="left:2278.00px;top:454.00px;width:197.00px;height:32.00px;background:#fafafa;border:1px solid #b8b8b8;border-radius:4.5px;"></div>
<span class="t" style="left:2285.30px;top:459.95px;font-size:14px;line-height:18px;color:#bdbdbd;letter-spacing:0.250px;">DD/MM/YY hh:mm</span>
<svg class="i" style="left:2450.20px;top:459.20px" width="21.6" height="21.6" viewBox="0 0 24 24"><path fill="#6b6b6b" d="M17 12h-5v5h5v-5zM16 1v2H8V1H6v2H5c-1.11 0-1.99.9-1.99 2L3 19c0 1.1.89 2 2 2h14c1.1 0 2-.9 2-2V5c0-1.1-.9-2-2-2h-1V1h-2zm3 18H5V8h14v11z"/></svg>
<span class="t" style="left:2027.00px;top:495.02px;font-size:11.2px;line-height:15px;color:#3a3a3a;letter-spacing:-0.049px;">Laydays Commence Target</span>
<div class="r" style="left:2027.00px;top:512.00px;width:197.00px;height:32.00px;background:#fafafa;border:1px solid #b8b8b8;border-radius:4.5px;"></div>
<span class="t" style="left:2034.30px;top:517.95px;font-size:14px;line-height:18px;color:#bdbdbd;letter-spacing:0.250px;">DD/MM/YY hh:mm</span>
<svg class="i" style="left:2199.20px;top:517.20px" width="21.6" height="21.6" viewBox="0 0 24 24"><path fill="#6b6b6b" d="M17 12h-5v5h5v-5zM16 1v2H8V1H6v2H5c-1.11 0-1.99.9-1.99 2L3 19c0 1.1.89 2 2 2h14c1.1 0 2-.9 2-2V5c0-1.1-.9-2-2-2h-1V1h-2zm3 18H5V8h14v11z"/></svg>
<span class="t" style="left:2278.00px;top:495.02px;font-size:11.2px;line-height:15px;color:#3a3a3a;letter-spacing:-0.056px;">Laydays Cancelling Target</span>
<div class="r" style="left:2278.00px;top:512.00px;width:197.00px;height:32.00px;background:#fafafa;border:1px solid #b8b8b8;border-radius:4.5px;"></div>
<span class="t" style="left:2285.30px;top:517.95px;font-size:14px;line-height:18px;color:#bdbdbd;letter-spacing:0.250px;">DD/MM/YY hh:mm</span>
<svg class="i" style="left:2450.20px;top:517.20px" width="21.6" height="21.6" viewBox="0 0 24 24"><path fill="#6b6b6b" d="M17 12h-5v5h5v-5zM16 1v2H8V1H6v2H5c-1.11 0-1.99.9-1.99 2L3 19c0 1.1.89 2 2 2h14c1.1 0 2-.9 2-2V5c0-1.1-.9-2-2-2h-1V1h-2zm3 18H5V8h14v11z"/></svg>
<span class="t" style="left:2027.00px;top:553.02px;font-size:11.2px;line-height:15px;color:#3a3a3a;letter-spacing:-0.000px;">Arrival Window Start</span>
<div class="r" style="left:2027.00px;top:570.00px;width:197.00px;height:32.00px;background:#fafafa;border:1px solid #b8b8b8;border-radius:4.5px;"></div>
<span class="t" style="left:2034.30px;top:575.95px;font-size:14px;line-height:18px;color:#bdbdbd;letter-spacing:0.250px;">DD/MM/YY hh:mm</span>
<svg class="i" style="left:2199.20px;top:575.20px" width="21.6" height="21.6" viewBox="0 0 24 24"><path fill="#6b6b6b" d="M17 12h-5v5h5v-5zM16 1v2H8V1H6v2H5c-1.11 0-1.99.9-1.99 2L3 19c0 1.1.89 2 2 2h14c1.1 0 2-.9 2-2V5c0-1.1-.9-2-2-2h-1V1h-2zm3 18H5V8h14v11z"/></svg>
<span class="t" style="left:2278.00px;top:553.02px;font-size:11.2px;line-height:15px;color:#3a3a3a;letter-spacing:-0.086px;">Arrival Window End</span>
<div class="r" style="left:2278.00px;top:570.00px;width:197.00px;height:32.00px;background:#fafafa;border:1px solid #b8b8b8;border-radius:4.5px;"></div>
<span class="t" style="left:2285.30px;top:575.95px;font-size:14px;line-height:18px;color:#bdbdbd;letter-spacing:0.250px;">DD/MM/YY hh:mm</span>
<svg class="i" style="left:2450.20px;top:575.20px" width="21.6" height="21.6" viewBox="0 0 24 24"><path fill="#6b6b6b" d="M17 12h-5v5h5v-5zM16 1v2H8V1H6v2H5c-1.11 0-1.99.9-1.99 2L3 19c0 1.1.89 2 2 2h14c1.1 0 2-.9 2-2V5c0-1.1-.9-2-2-2h-1V1h-2zm3 18H5V8h14v11z"/></svg>
<span class="t" style="left:2027.00px;top:611.02px;font-size:11.2px;line-height:15px;color:#3a3a3a;letter-spacing:-0.034px;">Place of Origin</span>
<div class="r" style="left:2027.00px;top:628.00px;width:235.00px;height:32.00px;background:#fafafa;border:1px solid #b8b8b8;border-radius:4.5px;"></div>
<span class="t" style="left:2278.00px;top:611.02px;font-size:11.2px;line-height:15px;color:#3a3a3a;letter-spacing:-0.002px;">Final Destination</span>
<div class="r" style="left:2278.00px;top:628.00px;width:235.00px;height:32.00px;background:#fafafa;border:1px solid #b8b8b8;border-radius:4.5px;"></div>
<div class="r" style="left:2011.00px;top:692.00px;width:517.50px;height:151.00px;background:#f3f6fd;border-radius:6px;"></div>
<div class="r" style="left:2027.00px;top:708.00px;width:486.00px;height:118.50px;background:#fff;border-radius:4px;box-shadow:0 2px 2px rgba(0,0,0,.22),0 1px 4px rgba(0,0,0,.18);"></div>
<span class="t" style="left:2043.00px;top:726.18px;font-size:16.8px;line-height:22px;color:#212121;letter-spacing:0.144px;-webkit-text-stroke:0.44px #212121;">Bunker Adjustments</span>
<svg class="i" style="left:2391.50px;top:726.50px" width="19" height="19" viewBox="0 0 24 24"><path fill="#1d5cf0" d="M19 13h-6v6h-2v-6H5v-2h6V5h2v6h6v2z"/></svg>
<svg class="i" style="left:2428.95px;top:725.75px" width="20.5" height="20.5" viewBox="0 0 24 24"><path fill="#616161" d="M3 5h3.6v14H3zM8.1 5h3.6v14H8.1zM13.2 5h3.6v14h-3.6zM18.3 5h3.6v14h-3.6z"/></svg>
<svg class="i" style="left:2467.30px;top:725.50px" width="21" height="21" viewBox="0 0 24 24"><path fill="#c0c0c0" d="M19 9h-4V3H9v6H5l7 7 7-7zM5 18v2h14v-2H5z"/></svg>
<span class="t" style="left:2043.00px;top:780.90px;font-size:12.4px;line-height:16px;color:#2b2b2b;letter-spacing:-0.052px;-webkit-text-stroke:0.32px #2b2b2b;">Bunker</span>
<span class="t" style="left:2043.00px;top:801.90px;font-size:12.4px;line-height:16px;color:#2b2b2b;letter-spacing:-0.016px;-webkit-text-stroke:0.32px #2b2b2b;">Category</span>
<span class="t" style="left:2140.60px;top:780.90px;font-size:12.4px;line-height:16px;color:#2b2b2b;letter-spacing:-0.301px;-webkit-text-stroke:0.32px #2b2b2b;">Range</span>
<span class="t" style="left:2140.60px;top:801.90px;font-size:12.4px;line-height:16px;color:#2b2b2b;letter-spacing:-0.411px;-webkit-text-stroke:0.32px #2b2b2b;">(USD)</span>
<span class="t" style="left:2234.73px;top:780.90px;font-size:12.4px;line-height:16px;color:#2b2b2b;letter-spacing:0.223px;-webkit-text-stroke:0.32px #2b2b2b;">Adjustment</span>
<span class="t" style="left:2263.81px;top:801.90px;font-size:12.4px;line-height:16px;color:#2b2b2b;letter-spacing:0.008px;-webkit-text-stroke:0.32px #2b2b2b;">Factor</span>
<span class="t" style="left:2381.06px;top:780.90px;font-size:12.4px;line-height:16px;color:#2b2b2b;letter-spacing:-0.025px;-webkit-text-stroke:0.32px #2b2b2b;">Agreed</span>
<span class="t" style="left:2346.52px;top:801.90px;font-size:12.4px;line-height:16px;color:#2b2b2b;letter-spacing:0.120px;-webkit-text-stroke:0.32px #2b2b2b;">Consumption</span>
<span class="t" style="left:2453.00px;top:780.90px;font-size:12.4px;line-height:16px;color:#2b2b2b;letter-spacing:0.072px;-webkit-text-stroke:0.32px #2b2b2b;">Price</span>
<span class="t" style="left:2453.00px;top:801.90px;font-size:12.4px;line-height:16px;color:#2b2b2b;letter-spacing:-0.411px;-webkit-text-stroke:0.32px #2b2b2b;">(USD)</span>
<div class="r" style="left:2011.00px;top:859.00px;width:517.50px;height:322.00px;background:#f3f6fd;border-radius:6px;"></div>
<span class="t" style="left:2027.00px;top:873.38px;font-size:16.8px;line-height:22px;color:#212121;letter-spacing:0.165px;-webkit-text-stroke:0.44px #212121;">Miscellaneous</span>
<svg class="i" style="left:2500.00px;top:873.80px" width="20" height="20" viewBox="0 0 24 24"><path fill="#555" d="M12 8l-6 6 1.41 1.41L12 10.83l4.59 4.58L18 14z"/></svg>
<span class="t" style="left:2027.00px;top:924.02px;font-size:11.2px;line-height:15px;color:#3a3a3a;letter-spacing:-0.145px;">External Reference</span>
<div class="r" style="left:2027.00px;top:941.00px;width:235.00px;height:32.00px;background:#fafafa;border:1px solid #b8b8b8;border-radius:4.5px;"></div>
<span class="t" style="left:2278.00px;top:924.02px;font-size:11.2px;line-height:15px;color:#808080;letter-spacing:-0.129px;">Trade</span>
<div class="r" style="left:2278.00px;top:941.00px;width:235.00px;height:32.00px;background:#e9ecf5;border:1px solid #cfcfcf;border-radius:4.5px;"></div>
<span class="t" style="left:2285.30px;top:946.95px;font-size:14px;line-height:18px;color:#b5b8c0;letter-spacing:-0.064px;">Type to search.</span>
<svg class="i" style="left:2490.00px;top:946.80px" width="20" height="20" viewBox="0 0 24 24"><path fill="#a5a5a5" d="M7 10l5 5 5-5z"/></svg>
<span class="t" style="left:2027.00px;top:982.02px;font-size:11.2px;line-height:15px;color:#3a3a3a;letter-spacing:-0.034px;">Cargo Text</span>
<div class="r" style="left:2027.00px;top:999.00px;width:235.00px;height:50.00px;background:#fafafa;border:1px solid #b8b8b8;border-radius:4.5px;"></div>
<span class="t" style="left:2278.00px;top:982.02px;font-size:11.2px;line-height:15px;color:#3a3a3a;letter-spacing:0.080px;">Comment</span>
<div class="r" style="left:2278.00px;top:999.00px;width:235.00px;height:50.00px;background:#fafafa;border:1px solid #b8b8b8;border-radius:4.5px;"></div>
<span class="t" style="left:2027.00px;top:1058.82px;font-size:11.2px;line-height:15px;color:#3a3a3a;letter-spacing:-0.074px;">Company and Business Unit</span>
<svg class="i" style="left:2169.30px;top:1057.50px" width="17" height="17" viewBox="0 0 24 24"><path fill="#555" d="M19 19H5V5h7V3H5c-1.11 0-2 .9-2 2v14c0 1.1.89 2 2 2h14c1.1 0 2-.9 2-2v-7h-2v7zM14 3v2h3.59l-9.83 9.83 1.41 1.41L19 6.41V10h2V3h-7z"/></svg>
<div class="r" style="left:2027.00px;top:1075.00px;width:486.00px;height:32.00px;background:#fafafa;border:1px solid #b8b8b8;border-radius:4.5px;"></div>
<span class="t" style="left:2034.30px;top:1080.95px;font-size:14px;line-height:18px;color:#212121;letter-spacing:0.032px;">Mabl Company - Mabl Business Unit</span>
<svg class="i" style="left:2490.00px;top:1080.80px" width="20" height="20" viewBox="0 0 24 24"><path fill="#6b6b6b" d="M7 10l5 5 5-5z"/></svg>
<span class="t" style="left:2027.00px;top:1116.02px;font-size:11.2px;line-height:15px;color:#3a3a3a;letter-spacing:-0.139px;">Cargo Operator</span>
<div class="r" style="left:2027.00px;top:1133.00px;width:486.00px;height:32.00px;background:#fafafa;border:1px solid #b8b8b8;border-radius:4.5px;"></div>
<span class="t" style="left:2034.30px;top:1138.95px;font-size:14px;line-height:18px;color:#bdbdbd;letter-spacing:0.031px;">Type to search.</span>
<svg class="i" style="left:2490.00px;top:1138.80px" width="20" height="20" viewBox="0 0 24 24"><path fill="#6b6b6b" d="M7 10l5 5 5-5z"/></svg>
</div>
</body></html>
